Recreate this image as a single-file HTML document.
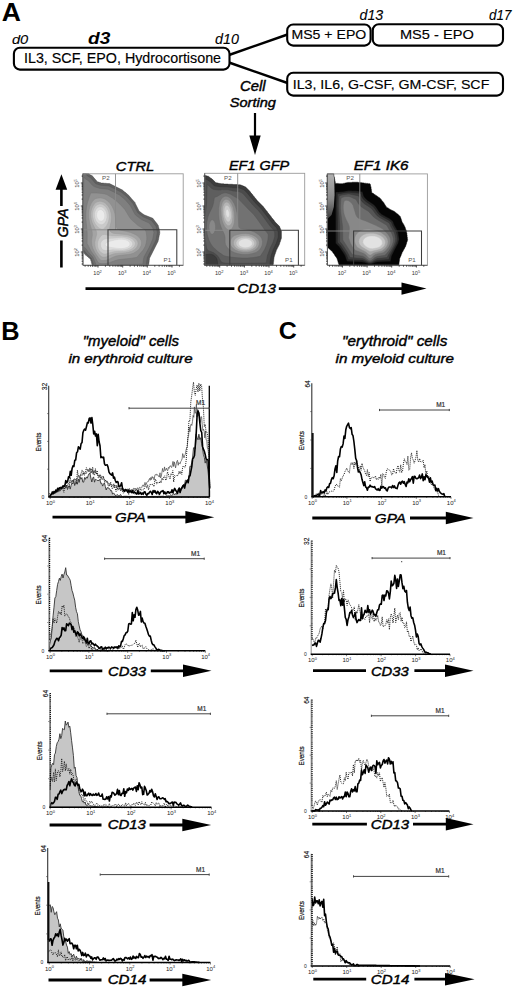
<!DOCTYPE html>
<html><head><meta charset="utf-8"><style>
html,body{margin:0;padding:0;background:#fff;}
svg{display:block;}
text{font-family:"Liberation Sans",sans-serif;}
</style></head><body>
<svg width="520" height="992" viewBox="0 0 520 992">
<rect width="520" height="992" fill="#fff"/>
<text x="1.84" y="20.50" font-size="25.00" font-weight="bold" font-style="normal" textLength="19.19" lengthAdjust="spacingAndGlyphs" fill="#000" >A</text>
<text x="11.90" y="43.60" font-size="13.61" font-weight="normal" font-style="italic" textLength="16.35" lengthAdjust="spacingAndGlyphs" fill="#000" stroke="#000" stroke-width="0.1">d0</text>
<text x="88.08" y="43.80" font-size="17.08" font-weight="bold" font-style="italic" textLength="22.25" lengthAdjust="spacingAndGlyphs" fill="#000" >d3</text>
<text x="215.00" y="44.20" font-size="14.44" font-weight="normal" font-style="italic" textLength="23.89" lengthAdjust="spacingAndGlyphs" fill="#000" stroke="#000" stroke-width="0.1">d10</text>
<text x="359.60" y="20.00" font-size="13.89" font-weight="normal" font-style="italic" textLength="23.66" lengthAdjust="spacingAndGlyphs" fill="#000" stroke="#000" stroke-width="0.1">d13</text>
<text x="489.00" y="20.00" font-size="13.89" font-weight="normal" font-style="italic" textLength="22.48" lengthAdjust="spacingAndGlyphs" fill="#000" stroke="#000" stroke-width="0.1">d17</text>
<path d="M229,55 L287.5,34.5 M229,62.5 L287.5,83" stroke="#000" stroke-width="2.4" fill="none"/>
<rect x="13.9" y="47.7" width="215.6" height="21.9" rx="6" fill="#fff" stroke="#000" stroke-width="2.1"/>
<text x="23.97" y="62.70" font-size="13.89" font-weight="normal" font-style="normal" textLength="197.09" lengthAdjust="spacingAndGlyphs" fill="#000" stroke="#000" stroke-width="0.15">IL3, SCF, EPO, Hydrocortisone</text>
<rect x="287.2" y="24.5" width="83.4" height="21.1" rx="6" fill="#fff" stroke="#000" stroke-width="2.1"/>
<text x="291.46" y="39.30" font-size="13.61" font-weight="normal" font-style="normal" textLength="74.78" lengthAdjust="spacingAndGlyphs" fill="#000" stroke="#000" stroke-width="0.15">MS5 + EPO</text>
<rect x="372.8" y="24.2" width="130.2" height="21.4" rx="6" fill="#fff" stroke="#000" stroke-width="2.1"/>
<text x="399.93" y="39.30" font-size="13.61" font-weight="normal" font-style="normal" textLength="73.86" lengthAdjust="spacingAndGlyphs" fill="#000" stroke="#000" stroke-width="0.15">MS5 - EPO</text>
<rect x="287.2" y="72.8" width="215.8" height="22.8" rx="6" fill="#fff" stroke="#000" stroke-width="2.1"/>
<text x="292.71" y="89.00" font-size="13.61" font-weight="normal" font-style="normal" textLength="196.62" lengthAdjust="spacingAndGlyphs" fill="#000" stroke="#000" stroke-width="0.15">IL3, IL6, G-CSF, GM-CSF, SCF</text>
<text x="240.12" y="91.20" font-size="13.75" font-weight="normal" font-style="italic" textLength="25.54" lengthAdjust="spacingAndGlyphs" fill="#000" stroke="#000" stroke-width="0.42">Cell</text>
<text x="229.73" y="107.30" font-size="13.61" font-weight="normal" font-style="italic" textLength="46.21" lengthAdjust="spacingAndGlyphs" fill="#000" stroke="#000" stroke-width="0.42">Sorting</text>
<path d="M255,113 L255,137" stroke="#000" stroke-width="2.2"/>
<path d="M249.3,135.5 L260.7,135.5 L255,155 Z" fill="#000"/>
<path d="M148.5,265.5 L92.8,265.5 L92.2,265.5 L92,265.3 L92,264.6 L91.8,264.3 L91.8,263.6 L91.5,263.3 L91.5,262.6 L91.3,262.3 L91.3,261.6 L90.8,260.6 L90.5,259.1 L90.2,259 L89,257.8 L88.8,257.8 L87.5,256.5 L87.2,256.5 L86,255.3 L85.8,255.3 L82.8,251.8 L82.8,173.8 L83,173.6 L88.5,173.6 L90.2,174.8 L92.2,175.8 L93.5,177.1 L93.5,177.3 L96.5,180.8 L96.5,181.1 L97.5,181.8 L98.8,182.1 L99,182.3 L99.5,182.3 L99.8,182.6 L100.2,182.6 L101.2,183.1 L103.5,183.1 L103.8,183.3 L106.5,183.3 L106.8,183.6 L109.5,183.6 L122.5,190.1 L123.8,191.3 L124,191.3 L125,192.3 L125.2,192.3 L129.2,195.8 L129.5,196.3 L130.7,197.6 L130.7,197.8 L135.2,202.8 L135.2,203.3 L139.2,211.3 L139.5,211.3 L140.2,212.1 L140.5,212.1 L142.2,213.6 L143.2,214.1 L144,214.8 L152.8,218.3 L153.7,219.3 L153.7,219.6 L157.5,224.3 L157.5,224.6 L158.2,225.3 L158.5,226.8 L158.7,227.1 L158.7,227.8 L159,228.1 L159.2,230.1 L159.5,230.3 L159.5,231.1 L159.7,231.3 L159.7,232.1 L160,232.3 L159.7,232.8 L159.7,233.8 L159.5,234.1 L159.5,235.1 L159.2,235.3 L159.2,236.3 L159,236.6 L159,237.6 L158.7,237.8 L158.7,238.8 L158.5,239.1 L158.5,240.1 L158.2,240.3 L158.2,241.1 L149.5,258.3 L149.5,259.6 L149.2,259.8 L149.2,261.6 L149,261.8 L149,263.6 L148.7,263.8 L148.7,265.3 L148.5,265.5Z" fill="#606060" fill-rule="evenodd" stroke="#444444" stroke-width="0.45"/>
<path d="M146,265.3 L102.5,265.4 L93.8,265.3 L91.3,258.3 L86.5,253.6 L84.2,250.6 L83,250.1 L82.9,217.6 L83,173.7 L86.3,173.8 L86.5,174.8 L87.3,175.8 L91.1,178.1 L94.8,182.7 L95.5,183.4 L96.5,183.9 L101,185.3 L108.8,185.9 L117.2,190 L121.5,192.3 L127.3,197.1 L133,203.6 L137.8,212.8 L143,216.7 L151.5,220.4 L156,226.3 L157.4,232.6 L155.9,240.3 L147.3,257.6 L146.4,263.6 L146.3,265.1 L146.2,265.3 L146,265.3Z" fill="#6f6f6f" fill-rule="evenodd" stroke="#535353" stroke-width="0.45"/>
<path d="M113.2,265.3 L96.3,265.3 L92.8,257.1 L88.2,251.9 L85.8,248.4 L84.5,247.4 L83,246.9 L83,204 L83.6,192.3 L83.8,177.8 L83.8,177.6 L84,177.5 L85.5,178.9 L88.6,180.8 L92.2,185.1 L94.2,186.6 L95.5,187.1 L100,188.4 L108,189.2 L115.2,192.7 L119.5,195 L125,199.5 L130.3,205.6 L134.7,213.8 L135.6,215.1 L141.5,219.6 L149.2,223.1 L152.9,228.1 L153.9,232.6 L152.7,239.3 L149,247.8 L144.2,256.6 L143.5,259.1 L142.8,264.2 L122,264.5 L113.2,265.3Z" fill="#7f7f7f" fill-rule="evenodd" stroke="#636363" stroke-width="0.45"/>
<path d="M105,263.6 L101.5,263.6 L98.7,263.1 L97,260.6 L94.7,256.3 L90.8,250.8 L88.4,245.8 L87.1,243.6 L87.2,232.8 L85.9,219.1 L85.8,215.1 L86,211.3 L86.6,206.6 L87.6,202.1 L89.5,196.3 L90.8,193.1 L91,193 L96.8,193 L101.5,193.4 L104.5,193.9 L106.8,194.5 L112.5,198.1 L115.6,200.3 L120,204.2 L124.8,209.4 L129.5,217.3 L131.5,219.8 L138,225.5 L144.5,229.4 L145.8,231.1 L146.3,232.8 L146.8,237.3 L146.7,239.8 L146.2,243.1 L145.4,245.8 L144.3,248.1 L142.9,250.3 L136.9,257.3 L131.8,258.2 L119,259.6 L116,260.3 L109.2,262.7 L105,263.6Z" fill="#919191" fill-rule="evenodd" stroke="#757575" stroke-width="0.45"/>
<path d="M103.8,260.6 L101,260.4 L99,258.5 L94.8,252.4 L92.8,248.3 L92,245.6 L91.5,241.3 L92.3,235.3 L92.2,232.1 L91.7,229.8 L89.6,222.6 L88.7,217.3 L88.7,213.6 L89.1,209.8 L89.9,206.6 L91.2,203.6 L92.8,201.1 L94.8,199 L96.5,198.4 L98.8,198 L100.8,198 L102.2,198.2 L104,198.7 L105.5,199.4 L107.2,200.7 L109,202.2 L110.5,204.1 L111.9,206.1 L113.7,209.8 L114.9,213.8 L115.6,218.3 L115.9,226.1 L116.3,227.6 L117,228.6 L118,229.3 L119.8,230 L126.8,231.5 L130.8,232.6 L134,233.9 L136.5,235.2 L138.5,236.8 L140,238.6 L141.1,240.6 L141.5,242.6 L141.4,244.1 L141.1,245.6 L139.7,248.3 L138.5,249.7 L137,251 L133.5,253.2 L130.8,254 L127.5,254.6 L118.5,255.6 L116,256 L113.5,256.9 L107.5,259.8 L105.5,260.3 L103.8,260.6Z" fill="#a4a4a4" fill-rule="evenodd" stroke="#888888" stroke-width="0.45"/>
<path d="M104,257.3 L103.2,257.3 L102,256.9 L100.8,256.1 L99.5,254.9 L97,251.6 L95.5,248.3 L94.9,245.3 L94.8,242.6 L95.3,239.6 L96.6,234.8 L96.7,232.6 L96,230.3 L93.4,225.3 L92.2,222.6 L91.3,219.6 L90.9,216.6 L90.8,213.8 L91.1,211.1 L91.9,208.3 L92.9,206.1 L94.2,204.1 L95.8,202.6 L97.1,201.8 L99.2,201.3 L100.8,201.3 L102.5,201.7 L104,202.3 L105.5,203.3 L107,204.7 L108.2,206.2 L109.4,208.1 L110.2,210.1 L111.2,213.6 L111.5,217.3 L111.2,221.6 L109.5,228.8 L109.8,230.5 L110.5,231.7 L112,232.8 L114,233.4 L125.2,234.5 L128.5,235.1 L131.5,236.2 L134.1,237.6 L136.2,239.3 L137.6,241.3 L138.1,243.3 L137.7,245.6 L136.5,247.7 L134.5,249.6 L131.8,251.2 L128.8,252.1 L125.8,252.7 L116.8,253.4 L114,253.8 L111.5,254.6 L106.5,256.8 L104,257.3Z" fill="#b7b7b7" fill-rule="evenodd" stroke="#9b9b9b" stroke-width="0.45"/>
<path d="M102.2,229.3 L101,229.1 L99.2,228.2 L97.5,226.7 L96,225 L94.8,223.1 L93.8,221.1 L93.1,218.8 L92.7,216.6 L92.6,214.3 L92.9,212.1 L93.3,210.1 L94.2,208.1 L95.2,206.5 L96.5,205.2 L98,204.4 L99.5,204 L101,204 L102.8,204.5 L104.2,205.4 L105.8,206.8 L107,208.4 L108,210.3 L108.7,212.6 L109.1,214.8 L109.2,217.3 L108.9,219.6 L108.4,221.8 L107.6,223.8 L106.5,225.8 L105,227.7 L103.5,228.9 L102.2,229.3ZM106,253.9 L104.5,254 L103.2,253.8 L102,253.2 L100.8,252.3 L99.6,251.1 L98.7,249.6 L98,248.1 L97.6,246.3 L97.5,243.1 L97.9,241.3 L98.5,239.6 L99.5,237.8 L100.5,236.5 L101.8,235.3 L102.8,234.7 L103.8,234.5 L104.8,234.5 L109.3,235.6 L112,235.9 L121.8,236 L126.8,236.6 L129.8,237.6 L132.1,238.8 L133.9,240.3 L135,242.1 L135.3,243.1 L135.3,244.3 L134.6,246.3 L132.8,248.3 L130,249.9 L127.2,250.8 L124,251.3 L115.2,251.6 L112.8,251.9 L110.5,252.4 L106,253.9Z" fill="#cacaca" fill-rule="evenodd" stroke="#aeaeae" stroke-width="0.45"/>
<path d="M102.5,224.6 L101.2,224.8 L100,224.5 L98.8,223.9 L97.7,223.1 L96.6,221.8 L95.7,220.3 L95.1,218.6 L94.7,216.8 L94.6,213.3 L95,211.6 L95.6,210.1 L96.4,208.8 L97.3,207.8 L98.5,207.1 L99.8,206.7 L101,206.7 L102,207 L103.2,207.7 L104.3,208.6 L106,211.1 L106.9,214.3 L107,217.6 L106.1,220.8 L105.4,222.1 L104.5,223.3 L103.5,224.1 L102.5,224.6ZM108.2,250.3 L105.5,250.5 L103.5,250 L102.5,249.4 L101.8,248.6 L100.8,246.7 L100.5,244.3 L100.7,243.1 L101.2,241.8 L102.8,240 L104.8,238.9 L106.8,238.6 L118.8,237.7 L121.5,237.6 L124,237.8 L127,238.5 L129.5,239.6 L131.5,241.1 L132.5,242.8 L132.7,243.8 L132.6,244.8 L131.6,246.6 L129.8,248 L127.2,249.1 L125,249.7 L122.2,250 L112.8,249.8 L108.2,250.3Z" fill="#dcdcdc" fill-rule="evenodd" stroke="#c0c0c0" stroke-width="0.45"/>
<path d="M101.2,221.3 L99.8,221 L98.2,219.9 L97.2,218.1 L96.6,215.8 L96.7,213.6 L97.4,211.6 L98.8,210.1 L100.2,209.6 L101.8,209.9 L103.2,211 L104.3,212.8 L104.8,215.1 L104.7,217.3 L104,219.3 L102.8,220.7 L101.2,221.3ZM121.8,248.6 L117.5,248.4 L107.5,246.9 L106.2,246.4 L105.6,245.8 L105.2,245.1 L105.3,244.1 L106.2,242.8 L108.2,241.7 L114.3,240.1 L118.8,239.3 L122,239.2 L125,239.6 L127.5,240.6 L129.2,241.8 L129.8,242.8 L130.1,244.1 L129.7,245.3 L128.9,246.3 L127.5,247.2 L126,247.8 L124,248.3 L121.8,248.6Z" fill="#ebebeb" fill-rule="evenodd" stroke="#cfcfcf" stroke-width="0.45"/>
<rect x="83" y="173.8" width="100.2" height="91.5" fill="none" stroke="#9a9a9a" stroke-width="0.9"/>
<path d="M83,229.8 L108,229.8 M115.5,173.8 L115.5,229.8" stroke="#8a8a8a" stroke-width="0.9" fill="none"/>
<path d="M108,265.3 L108,229.8 L176.8,229.8 L176.8,265.3" stroke="#3c3c3c" stroke-width="1.05" fill="none"/>
<path d="M83,173.8 L83,265.3 L183.2,265.3" stroke="#555" stroke-width="0.9" fill="none"/>
<path d="M85.1,265.3 l0,1.4 M88.2,265.3 l0,1.4 M90.6,265.3 l0,1.4 M92.5,265.3 l0,1.4 M94.2,265.3 l0,1.4 M95.6,265.3 l0,1.4 M96.9,265.3 l0,1.4 M98,265.3 l0,2.2 M105.4,265.3 l0,1.4 M109.8,265.3 l0,1.4 M112.9,265.3 l0,1.4 M115.2,265.3 l0,1.4 M117.2,265.3 l0,1.4 M118.8,265.3 l0,1.4 M120.3,265.3 l0,1.4 M121.5,265.3 l0,1.4 M122.7,265.3 l0,2.2 M130.1,265.3 l0,1.4 M134.4,265.3 l0,1.4 M137.5,265.3 l0,1.4 M139.9,265.3 l0,1.4 M141.9,265.3 l0,1.4 M143.5,265.3 l0,1.4 M144.9,265.3 l0,1.4 M146.2,265.3 l0,1.4 M147.3,265.3 l0,2.2 M154.8,265.3 l0,1.4 M159.1,265.3 l0,1.4 M162.2,265.3 l0,1.4 M164.6,265.3 l0,1.4 M166.5,265.3 l0,1.4 M168.2,265.3 l0,1.4 M169.6,265.3 l0,1.4 M170.9,265.3 l0,1.4 M172,265.3 l0,2.2 M179.4,265.3 l0,1.4 M83,264 l-1.4,0 M83,261.2 l-1.4,0 M83,258.9 l-1.4,0 M83,257.1 l-1.4,0 M83,255.6 l-1.4,0 M83,254.2 l-1.4,0 M83,253.1 l-1.4,0 M83,252 l-2.2,0 M83,245.1 l-1.4,0 M83,241 l-1.4,0 M83,238.2 l-1.4,0 M83,235.9 l-1.4,0 M83,234.1 l-1.4,0 M83,232.6 l-1.4,0 M83,231.2 l-1.4,0 M83,230.1 l-1.4,0 M83,229 l-2.2,0 M83,222.1 l-1.4,0 M83,218 l-1.4,0 M83,215.2 l-1.4,0 M83,212.9 l-1.4,0 M83,211.1 l-1.4,0 M83,209.6 l-1.4,0 M83,208.2 l-1.4,0 M83,207.1 l-1.4,0 M83,206 l-2.2,0 M83,199.1 l-1.4,0 M83,195 l-1.4,0 M83,192.2 l-1.4,0 M83,189.9 l-1.4,0 M83,188.1 l-1.4,0 M83,186.6 l-1.4,0 M83,185.2 l-1.4,0 M83,184.1 l-1.4,0 M83,183 l-2.2,0 M83,176.1 l-1.4,0 " stroke="#222" stroke-width="0.85" fill="none"/>
<text x="97.5" y="274.8" font-size="5.6" fill="#333" text-anchor="middle">10<tspan font-size="4" dy="-2.3">2</tspan></text>
<text x="0" y="0" font-size="5.6" fill="#333" text-anchor="middle" transform="translate(79.4,252.5) rotate(-90)">10<tspan font-size="4" dy="-2.3">2</tspan></text>
<text x="122.2" y="274.8" font-size="5.6" fill="#333" text-anchor="middle">10<tspan font-size="4" dy="-2.3">3</tspan></text>
<text x="0" y="0" font-size="5.6" fill="#333" text-anchor="middle" transform="translate(79.4,229.5) rotate(-90)">10<tspan font-size="4" dy="-2.3">3</tspan></text>
<text x="146.8" y="274.8" font-size="5.6" fill="#333" text-anchor="middle">10<tspan font-size="4" dy="-2.3">4</tspan></text>
<text x="0" y="0" font-size="5.6" fill="#333" text-anchor="middle" transform="translate(79.4,206.5) rotate(-90)">10<tspan font-size="4" dy="-2.3">4</tspan></text>
<text x="171.5" y="274.8" font-size="5.6" fill="#333" text-anchor="middle">10<tspan font-size="4" dy="-2.3">5</tspan></text>
<text x="0" y="0" font-size="5.6" fill="#333" text-anchor="middle" transform="translate(79.4,183.5) rotate(-90)">10<tspan font-size="4" dy="-2.3">5</tspan></text>
<text x="105.8" y="180.1" font-size="6.2" fill="#555" text-anchor="middle">P2</text>
<text x="167.3" y="261.9" font-size="6.2" fill="#555" text-anchor="middle">P1</text>
<path d="M272.9,265.5 L204.7,265.5 L204.5,265.3 L204.5,176.8 L204.5,175.6 L204.7,175.3 L204.9,175.6 L205.7,175.6 L205.9,175.8 L206.7,175.8 L206.9,176.1 L208.4,176.3 L210.9,178.3 L211.9,178.8 L215.9,182.8 L218.2,183.1 L218.4,183.3 L219.4,183.3 L219.7,183.6 L220.7,183.6 L220.9,183.8 L223.7,183.8 L223.9,184.1 L228.2,184.1 L228.4,184.3 L232.7,184.3 L232.9,184.6 L237.9,184.6 L238.2,184.8 L240.4,184.8 L240.7,185.1 L241.2,185.1 L241.9,185.6 L242.4,185.6 L243.2,186.1 L243.7,186.1 L244.4,186.6 L245.4,186.8 L249.9,191.3 L249.9,191.6 L250.7,192.3 L250.7,192.6 L252.7,194.8 L252.7,195.1 L254.7,197.3 L254.7,197.6 L255.9,198.8 L255.9,199.1 L257.2,200.3 L257.2,200.6 L263.7,207.1 L263.7,207.3 L265.4,209.3 L265.4,209.6 L267.4,211.8 L267.4,212.1 L271.2,216.8 L271.2,217.1 L274.2,220.6 L274.2,220.8 L274.9,221.6 L274.9,221.8 L279.4,226.3 L279.9,227.3 L279.9,227.8 L280.4,228.6 L280.4,229.1 L280.9,229.8 L280.9,230.3 L281.4,231.1 L281.4,238.3 L281.2,238.6 L281.2,239.1 L280.9,239.3 L280.9,239.8 L280.7,240.1 L280.7,240.6 L280.4,240.8 L280.4,241.3 L280.2,241.6 L280.2,242.1 L279.9,242.3 L279.4,244.3 L276.2,250.6 L276.2,251.1 L275.7,252.1 L275.7,252.6 L275.4,252.8 L275.4,253.3 L274.9,254.3 L274.9,254.8 L274.7,255.1 L274.7,255.6 L274.4,255.8 L274.4,256.3 L274.2,256.6 L274.2,257.3 L273.9,257.6 L273.9,259.3 L273.7,259.6 L273.7,261.6 L273.4,261.8 L273.4,263.8 L273.2,264.1 L273.2,265.3 L272.9,265.5Z" fill="#3c3c3c" fill-rule="evenodd" stroke="#202020" stroke-width="0.45"/>
<path d="M269.7,265.3 L218.3,265.3 L217.7,264.1 L217.3,260.8 L216.9,259.1 L216.1,257.6 L214.9,256.2 L213.2,255 L211.4,254.4 L209.4,254.2 L205.9,254.6 L204.7,254.2 L204.7,178.9 L206.7,179.4 L207.4,179.8 L210.3,181.8 L213.9,185.3 L214.9,185.9 L220.4,186.7 L227.2,186.8 L228.2,187.1 L231.7,187.3 L232.7,187.6 L239.4,188 L243.9,189.7 L247.1,192.8 L255.1,202.6 L260.9,208.3 L272.7,223.8 L276.6,227.8 L278.3,232.1 L278.3,237.3 L276.3,243.3 L273.4,249.3 L271.2,255.6 L270.5,259.1 L269.9,265.1 L269.7,265.3ZM204.7,265.3 L204.7,265.3Z" fill="#4c4c4c" fill-rule="evenodd" stroke="#303030" stroke-width="0.45"/>
<path d="M248.9,263.3 L227.9,263.3 L224.9,263.1 L222.9,262.7 L221.9,262.3 L220.9,261.3 L218.5,257.1 L216.7,255 L213.4,252.6 L208.4,250.7 L207.7,250.1 L207.1,249.3 L206.6,248.1 L206.2,246.3 L204.8,235.1 L204.7,224.6 L204.7,219.9 L206.1,208.1 L206.6,202.6 L207.2,184.4 L207.9,184.9 L211.5,188.3 L212.7,189 L213.9,189.5 L218.4,190 L220.2,190 L222.2,189.6 L226.7,189.6 L231.2,190.4 L232.9,190.9 L238.9,191.6 L241.9,192.8 L244.3,195.1 L252.6,204.8 L258.4,210.6 L262.2,215.3 L269.9,225.9 L273.7,230.1 L274.7,232.8 L274.7,236.8 L273.1,242.1 L270.2,248.1 L267.7,254.8 L267.2,256.6 L266.2,262.9 L248.9,263.3Z" fill="#5e5e5e" fill-rule="evenodd" stroke="#424242" stroke-width="0.45"/>
<path d="M247.2,258.1 L241.7,258.1 L235.4,257.6 L226.9,256.5 L223.7,255.6 L218.2,251.8 L212.9,246.9 L210.7,243.7 L208.7,239.6 L207.2,234.3 L206.5,228.6 L206.7,222.8 L207.8,217.3 L209.2,213.4 L211.8,208.3 L212.8,205.8 L213.6,202.6 L214.4,197.4 L217.2,196.4 L221.9,193.6 L223.9,193 L225.4,192.8 L226.4,192.9 L228.4,193.4 L230.7,194.3 L234.4,196.6 L238.2,198.6 L247.9,208.8 L253.7,214.4 L257.9,220 L264.9,230.1 L268.1,234.1 L268.2,235.8 L267.9,239.8 L266.6,244.8 L264.6,249.6 L260.3,256.3 L253.7,257.5 L247.2,258.1Z" fill="#727272" fill-rule="evenodd" stroke="#565656" stroke-width="0.45"/>
<path d="M248.7,254.3 L244.9,254.5 L241.2,254.3 L237.7,253.6 L234.2,252.5 L231.2,250.9 L228.7,249.1 L226.9,247.1 L225.6,244.8 L225.1,242.3 L225.1,237.8 L224.9,236.1 L224.1,233.8 L221.3,227.6 L220,223.8 L219.1,219.3 L218.7,214.3 L218.8,208.3 L219.5,203.1 L220.3,200.8 L221.4,198.9 L222.7,197.5 L224.2,196.6 L225.4,196.2 L226.7,196.2 L228.2,196.7 L229.4,197.4 L230.7,198.5 L232,200.1 L234.3,203.8 L235.8,207.8 L237.1,213.1 L238,219.1 L238.5,225.8 L238.9,227.1 L239.3,227.8 L240,228.3 L240.9,228.7 L246.2,229.4 L249.4,230.2 L254.4,232.1 L257.2,233.7 L259.7,235.7 L260.9,237.1 L261.8,238.8 L262.5,241.6 L262.3,244.3 L261.4,247.1 L259.7,249.5 L257.9,251.3 L256.2,252.4 L252.4,253.6 L248.7,254.3ZM212.9,234.1 L212.2,234.2 L211.7,234.2 L210.9,233.7 L210.4,233.1 L209.4,230.8 L209,227.8 L209.1,224.8 L209.8,222.3 L210.9,220.4 L211.4,220 L212.2,219.8 L213.4,220.3 L214.4,221.6 L215.2,223.6 L215.6,226.1 L215.5,228.6 L214.9,231.1 L214,233.1 L212.9,234.1Z" fill="#888888" fill-rule="evenodd" stroke="#6c6c6c" stroke-width="0.45"/>
<path d="M229.7,230.1 L228.4,229.9 L226.9,229.1 L225.7,227.9 L224.4,226.1 L223.3,223.8 L222.3,221.1 L221.6,218.3 L221.2,215.3 L220.9,209.6 L221.1,206.8 L221.6,204.6 L222.4,202.3 L223.4,200.8 L224.7,199.7 L225.9,199.3 L227.2,199.4 L228.7,200.1 L229.9,201.3 L231.2,203.1 L232.2,205.1 L233.2,207.6 L234.4,213.3 L234.6,216.6 L234.6,219.6 L234.3,222.3 L233.8,224.8 L232.9,227 L231.9,228.6 L230.9,229.6 L229.7,230.1ZM247.4,252.3 L243.2,252.3 L238.9,251.5 L235.4,250 L232.7,248 L231.7,246.8 L230.8,245.3 L230.4,244.1 L230.2,242.6 L230.4,241.1 L230.8,239.6 L231.4,238.3 L232.4,237 L234.4,235.6 L237.7,234.5 L241.7,233.7 L245.4,233.5 L248.9,233.9 L251.9,234.7 L254.9,236.2 L257,237.8 L258.7,240.1 L259.3,242.3 L259.1,244.8 L258.1,247.1 L256.4,249.1 L254.2,250.5 L250.9,251.7 L247.4,252.3Z" fill="#9e9e9e" fill-rule="evenodd" stroke="#828282" stroke-width="0.45"/>
<path d="M229.4,225.6 L228.4,225.7 L227.4,225.4 L226.4,224.6 L225.4,223.3 L224.5,221.6 L223.7,219.6 L222.7,215.1 L222.4,210.3 L222.9,206.3 L223.6,204.6 L224.4,203.3 L225.2,202.5 L226.2,202.1 L227.2,202.2 L228.2,202.6 L229.2,203.5 L230.1,204.8 L231.7,208.3 L232.6,212.3 L232.9,216.8 L232.4,221.1 L231.9,222.8 L231.2,224.1 L230.4,225 L229.4,225.6ZM246.4,250.8 L243.2,250.7 L239.9,250 L237.2,248.8 L235,247.1 L233.7,245.1 L233.3,242.8 L233.8,240.8 L235.2,238.8 L237.2,237.4 L239.7,236.3 L242.4,235.7 L245.4,235.5 L248.4,235.8 L251.2,236.6 L253.4,237.7 L255.2,239.2 L256.5,241.1 L256.9,243.1 L256.6,245.1 L255.7,246.8 L254.2,248.3 L252,249.6 L249.4,250.4 L246.4,250.8Z" fill="#b5b5b5" fill-rule="evenodd" stroke="#999999" stroke-width="0.45"/>
<path d="M228.9,221.8 L228.2,221.9 L227.4,221.7 L226.1,220.3 L224.9,217.8 L224.1,214.6 L224,211.3 L224.3,208.3 L225.2,206.3 L225.9,205.5 L226.7,205.3 L227.4,205.4 L228.2,205.8 L229.4,207.3 L230.4,209.7 L231.1,212.6 L231.3,215.8 L231,218.6 L230.2,220.6 L229.7,221.3 L228.9,221.8ZM245.9,249.3 L243.2,249.1 L240.7,248.5 L238.7,247.5 L237,246.1 L236.2,244.6 L236,242.8 L236.6,241.1 L237.9,239.6 L239.4,238.5 L241.4,237.8 L243.7,237.3 L245.9,237.2 L248.2,237.5 L250.2,238.1 L251.9,239.1 L253.4,240.4 L254.3,241.8 L254.6,243.3 L254.3,244.8 L253.5,246.3 L252.2,247.4 L250.4,248.4 L248.2,249 L245.9,249.3Z" fill="#cccccc" fill-rule="evenodd" stroke="#b0b0b0" stroke-width="0.45"/>
<path d="M228.4,217.4 L227.7,217.5 L226.9,216.9 L226.4,215.8 L225.9,214.3 L225.8,212.6 L225.9,210.8 L226.4,209.8 L226.9,209.3 L227.4,209.3 L228.2,209.9 L228.8,211.1 L229.3,212.6 L229.4,214.1 L229.3,215.6 L228.9,216.7 L228.4,217.4ZM245.9,247.8 L243.9,247.7 L242.2,247.3 L240.6,246.6 L239.3,245.6 L238.6,244.3 L238.4,243.1 L238.8,241.8 L239.9,240.6 L241.2,239.7 L242.7,239.2 L244.2,238.9 L245.9,238.8 L247.7,239.1 L249.2,239.6 L250.5,240.3 L251.4,241.2 L252.1,242.3 L252.3,243.3 L252.1,244.6 L251.4,245.5 L250.4,246.4 L249.2,247.1 L247.7,247.6 L245.9,247.8Z" fill="#e2e2e2" fill-rule="evenodd" stroke="#c6c6c6" stroke-width="0.45"/>
<rect x="204.7" y="173.3" width="100" height="92" fill="none" stroke="#9a9a9a" stroke-width="0.9"/>
<path d="M204.7,230.3 L229.8,230.3 M237.7,173.3 L237.7,230.3" stroke="#8a8a8a" stroke-width="0.9" fill="none"/>
<path d="M229.8,265.3 L229.8,230.3 L298.4,230.3 L298.4,265.3" stroke="#3c3c3c" stroke-width="1.05" fill="none"/>
<path d="M204.7,173.3 L204.7,265.3 L304.7,265.3" stroke="#555" stroke-width="0.9" fill="none"/>
<path d="M206.8,265.3 l0,1.4 M209.9,265.3 l0,1.4 M212.3,265.3 l0,1.4 M214.2,265.3 l0,1.4 M215.9,265.3 l0,1.4 M217.3,265.3 l0,1.4 M218.6,265.3 l0,1.4 M219.7,265.3 l0,2.2 M227.1,265.3 l0,1.4 M231.5,265.3 l0,1.4 M234.6,265.3 l0,1.4 M236.9,265.3 l0,1.4 M238.9,265.3 l0,1.4 M240.5,265.3 l0,1.4 M242,265.3 l0,1.4 M243.2,265.3 l0,1.4 M244.4,265.3 l0,2.2 M251.8,265.3 l0,1.4 M256.1,265.3 l0,1.4 M259.2,265.3 l0,1.4 M261.6,265.3 l0,1.4 M263.6,265.3 l0,1.4 M265.2,265.3 l0,1.4 M266.6,265.3 l0,1.4 M267.9,265.3 l0,1.4 M269,265.3 l0,2.2 M276.5,265.3 l0,1.4 M280.8,265.3 l0,1.4 M283.9,265.3 l0,1.4 M286.3,265.3 l0,1.4 M288.2,265.3 l0,1.4 M289.9,265.3 l0,1.4 M291.3,265.3 l0,1.4 M292.6,265.3 l0,1.4 M293.7,265.3 l0,2.2 M301.1,265.3 l0,1.4 M204.7,264 l-1.4,0 M204.7,261.2 l-1.4,0 M204.7,258.9 l-1.4,0 M204.7,257.1 l-1.4,0 M204.7,255.6 l-1.4,0 M204.7,254.2 l-1.4,0 M204.7,253.1 l-1.4,0 M204.7,252 l-2.2,0 M204.7,245.1 l-1.4,0 M204.7,241 l-1.4,0 M204.7,238.2 l-1.4,0 M204.7,235.9 l-1.4,0 M204.7,234.1 l-1.4,0 M204.7,232.6 l-1.4,0 M204.7,231.2 l-1.4,0 M204.7,230.1 l-1.4,0 M204.7,229 l-2.2,0 M204.7,222.1 l-1.4,0 M204.7,218 l-1.4,0 M204.7,215.2 l-1.4,0 M204.7,212.9 l-1.4,0 M204.7,211.1 l-1.4,0 M204.7,209.6 l-1.4,0 M204.7,208.2 l-1.4,0 M204.7,207.1 l-1.4,0 M204.7,206 l-2.2,0 M204.7,199.1 l-1.4,0 M204.7,195 l-1.4,0 M204.7,192.2 l-1.4,0 M204.7,189.9 l-1.4,0 M204.7,188.1 l-1.4,0 M204.7,186.6 l-1.4,0 M204.7,185.2 l-1.4,0 M204.7,184.1 l-1.4,0 M204.7,183 l-2.2,0 M204.7,176.1 l-1.4,0 " stroke="#222" stroke-width="0.85" fill="none"/>
<text x="219.2" y="274.8" font-size="5.6" fill="#333" text-anchor="middle">10<tspan font-size="4" dy="-2.3">2</tspan></text>
<text x="0" y="0" font-size="5.6" fill="#333" text-anchor="middle" transform="translate(201.1,252.5) rotate(-90)">10<tspan font-size="4" dy="-2.3">2</tspan></text>
<text x="243.9" y="274.8" font-size="5.6" fill="#333" text-anchor="middle">10<tspan font-size="4" dy="-2.3">3</tspan></text>
<text x="0" y="0" font-size="5.6" fill="#333" text-anchor="middle" transform="translate(201.1,229.5) rotate(-90)">10<tspan font-size="4" dy="-2.3">3</tspan></text>
<text x="268.5" y="274.8" font-size="5.6" fill="#333" text-anchor="middle">10<tspan font-size="4" dy="-2.3">4</tspan></text>
<text x="0" y="0" font-size="5.6" fill="#333" text-anchor="middle" transform="translate(201.1,206.5) rotate(-90)">10<tspan font-size="4" dy="-2.3">4</tspan></text>
<text x="293.2" y="274.8" font-size="5.6" fill="#333" text-anchor="middle">10<tspan font-size="4" dy="-2.3">5</tspan></text>
<text x="0" y="0" font-size="5.6" fill="#333" text-anchor="middle" transform="translate(201.1,183.5) rotate(-90)">10<tspan font-size="4" dy="-2.3">5</tspan></text>
<text x="227.8" y="179.6" font-size="6.2" fill="#555" text-anchor="middle">P2</text>
<text x="288.9" y="261.9" font-size="6.2" fill="#555" text-anchor="middle">P1</text>
<path d="M398.4,265.6 L340.1,265.6 L339.4,265.6 L339.2,265.4 L338.9,264.4 L338.7,264.1 L338.7,263.6 L338.4,263.4 L338.4,262.9 L338.2,262.6 L338.2,261.9 L337.9,261.6 L337.9,261.1 L337.7,260.9 L337.7,260.4 L337.4,260.1 L337.4,259.6 L337.2,259.4 L337.2,258.9 L336.7,257.9 L334.7,255.2 L334.7,254.9 L332.7,252.2 L332.7,251.9 L327.2,246.9 L327.2,173.9 L327.4,173.7 L333.6,173.7 L333.9,173.9 L333.9,175.7 L334.1,175.9 L334.1,176.9 L334.4,177.2 L334.6,179.4 L334.9,179.7 L334.9,180.9 L335.1,181.2 L335.4,183.4 L338.6,183.4 L338.9,183.7 L342.9,183.7 L343.1,183.4 L344.9,183.2 L345.1,182.9 L346.1,182.9 L346.4,182.7 L347.1,182.7 L347.4,182.4 L351.6,182.4 L351.9,182.2 L358.1,182.2 L358.4,182.4 L360.6,182.4 L360.9,182.7 L362.4,182.7 L362.6,182.9 L364.1,182.9 L364.4,183.2 L365.6,183.2 L365.9,183.4 L368.1,183.4 L368.4,183.7 L369.9,183.7 L370.4,184.4 L370.6,186.2 L370.9,186.4 L370.9,187.2 L371.1,187.4 L371.1,188.9 L371.4,189.2 L371.4,190.4 L371.6,190.7 L371.6,192.2 L372.4,192.9 L372.6,192.9 L373.1,193.4 L374.1,193.9 L374.9,194.7 L375.1,194.7 L375.6,195.2 L377.4,196.2 L378.1,196.9 L378.4,196.9 L379.1,197.7 L379.4,197.7 L380.6,198.7 L380.6,198.9 L381.6,199.9 L381.6,200.2 L383.6,202.4 L384.1,203.4 L384.6,203.9 L384.9,204.7 L385.4,205.2 L385.6,205.9 L386.1,206.4 L386.4,207.2 L388.4,208.2 L390.1,209.4 L394.4,211.4 L397.1,213.7 L397.4,213.7 L400.4,216.7 L400.6,217.7 L400.9,217.9 L400.9,218.4 L401.1,218.7 L401.1,219.2 L401.4,219.4 L401.4,219.9 L401.6,220.2 L401.6,220.7 L401.9,220.9 L401.9,221.4 L402.6,222.9 L403.1,223.4 L403.4,224.2 L403.9,224.7 L404.1,225.4 L404.6,225.9 L404.6,226.4 L405.1,227.2 L405.6,229.2 L406.1,229.9 L406.4,231.2 L406.6,231.4 L406.6,232.7 L406.9,232.9 L406.9,234.7 L407.1,234.9 L407.1,236.9 L407.4,237.2 L407.4,238.9 L407.6,239.2 L407.6,240.2 L407.4,240.4 L407.1,241.7 L406.6,242.7 L406.6,243.4 L406.4,243.7 L406.4,244.2 L406.1,244.4 L405.6,246.4 L404.9,247.4 L404.1,249.2 L403.6,249.7 L402.9,251.4 L402.4,251.9 L401.9,252.9 L401.9,253.4 L401.1,254.9 L401.1,255.4 L400.1,257.4 L400.1,257.9 L399.6,258.6 L399.6,259.6 L399.4,259.9 L399.4,261.4 L399.1,261.6 L399.1,263.4 L398.9,263.6 L398.9,265.1 L398.4,265.6Z" fill="#050505" fill-rule="evenodd" stroke="#000000" stroke-width="0.45"/>
<path d="M371.4,263.9 L369.9,264.1 L368.6,263.9 L364.1,262.4 L361.9,262 L347.1,261.6 L346.9,261.3 L345,255.9 L343.8,253.7 L339.1,246.7 L335.6,243.2 L335.5,203.4 L335.7,192.2 L335.9,192 L338.4,192 L343.4,191.4 L349.1,190.5 L352.1,190.8 L356.1,190.8 L362.6,191.8 L363.4,195.2 L364,196.4 L364.9,197.8 L367.1,199.9 L374.4,205 L376.4,207.4 L379.3,211.9 L380.4,213.1 L381.7,214.2 L385.9,216.6 L389.6,218.6 L392.9,221.2 L394.2,224.7 L397,229.7 L398.3,232.9 L399.2,239.2 L398.2,243.2 L394.8,249.7 L391.7,256.1 L391.1,258.4 L390.6,261.4 L390.4,261.6 L377.6,262 L375.6,262.4 L371.4,263.9Z" fill="#262626" fill-rule="evenodd" stroke="#0a0a0a" stroke-width="0.45"/>
<path d="M371.4,262.9 L369.9,263.1 L368.6,263 L364.1,260.9 L362.1,260.3 L348.4,259.7 L346.6,255.2 L345.2,252.7 L340.5,245.7 L337.4,242.2 L337.5,222.9 L337,205.4 L337.4,193.9 L346.6,192.4 L349.1,192.2 L352.4,192.6 L356.1,192.8 L360.9,193.6 L361.8,196.7 L363.4,199.2 L365.9,201.5 L373,206.4 L374.9,208.7 L377.8,212.9 L379.1,214.4 L381.1,215.9 L388.8,220.2 L391.4,222.2 L392.8,225.7 L395.5,230.4 L396.7,233.7 L397,234.9 L397.6,238.9 L397.2,240.9 L396.1,244.2 L390.1,255.7 L388.9,259.6 L377.4,260.4 L375.6,260.9 L371.4,262.9Z" fill="#3d3d3d" fill-rule="evenodd" stroke="#212121" stroke-width="0.45"/>
<path d="M371.1,261.9 L369.9,262.1 L368.4,261.8 L364.4,259.2 L362.1,258.4 L350.1,257.5 L348.5,254.2 L347.1,251.7 L342.3,244.4 L339.6,241.3 L339.6,224.7 L338.6,206.4 L338.8,200.2 L339.2,195.9 L339.3,195.7 L342.6,194.8 L347.9,194 L349.6,194.1 L358.7,195.9 L360,198.9 L361.9,201.4 L364.3,203.7 L371.1,208.2 L373.1,210.4 L376,214.4 L377.4,215.9 L379.4,217.4 L387.6,222 L389.5,223.4 L390.9,226.7 L393.7,231.4 L394.8,234.2 L395.7,238.7 L395.3,241.7 L393.7,245.9 L390.6,251.4 L388.2,255.2 L387.1,257.5 L377.1,258.6 L375.6,259.2 L372.6,261.2 L371.1,261.9Z" fill="#555555" fill-rule="evenodd" stroke="#393939" stroke-width="0.45"/>
<path d="M370.6,260.7 L369.6,260.8 L368.4,260.3 L364.6,257.2 L362.6,256.2 L352.2,254.4 L342.8,239.9 L342.6,226.4 L340.9,213.7 L340.4,208.2 L340.6,202.2 L341,198.7 L341.4,197.7 L344.9,196.6 L348.1,196.4 L349.9,196.7 L356,199.4 L358.4,203.7 L361.1,206.7 L364.6,209.1 L368.2,211.2 L369.7,212.7 L373.3,216.7 L375.9,218.8 L386.7,225.2 L389.3,229.7 L391.2,232.4 L392.4,234.8 L393.5,238.7 L393.4,240.9 L393.1,242.4 L392.3,244.9 L391,247.4 L389,250.7 L387.2,252.9 L385.1,255.3 L378.4,256.3 L376.6,256.7 L374.9,257.6 L371.9,260.1 L370.6,260.7Z" fill="#6d6d6d" fill-rule="evenodd" stroke="#515151" stroke-width="0.45"/>
<path d="M370.4,258.4 L369.6,258.4 L368.6,258 L365.6,254.7 L363.9,253.5 L355.1,250.2 L352.4,246.7 L350.5,243.4 L348.6,237.7 L349.4,229.7 L349.4,227.7 L349.1,225.9 L348.3,223.7 L346.1,219.4 L344.9,216.5 L344,213.7 L343.5,210.9 L343.2,207.9 L343.3,205.2 L343.8,202.4 L344.4,200.7 L346.1,200.3 L348.1,200.6 L350.1,201.7 L351.6,203.2 L353,205.2 L356,215.2 L356.9,216.7 L358,217.9 L359.4,218.7 L366.9,221.5 L376.1,225.5 L382.4,228.7 L387.9,234.2 L389.1,235.9 L390,237.7 L390.4,238.9 L390.6,240.4 L390.2,243.7 L388.8,246.9 L386.5,249.9 L384.9,251.4 L383.1,252.7 L377.1,254 L375.1,254.7 L373.9,255.6 L371.6,257.8 L370.4,258.4Z" fill="#888888" fill-rule="evenodd" stroke="#6c6c6c" stroke-width="0.45"/>
<path d="M370.9,254.9 L369.9,255.1 L369.1,254.8 L365.4,251.7 L360.4,249.2 L358.1,247.8 L357.1,247 L356.5,246.2 L355.1,243.4 L354.5,241.4 L354.5,239.4 L354.8,237.4 L355.4,235.7 L356.4,234.2 L357.9,232.5 L359.6,231.2 L361.4,230.2 L364.9,229.4 L368.9,229.3 L373.4,229.9 L377.6,231 L380.6,232.3 L384.2,234.7 L386.2,236.7 L387.6,238.9 L388.1,241.7 L387.7,244.2 L386.5,246.7 L384.6,248.9 L381.9,250.9 L374.8,252.7 L373.4,253.3 L370.9,254.9Z" fill="#a5a5a5" fill-rule="evenodd" stroke="#898989" stroke-width="0.45"/>
<path d="M370.9,251.4 L369.9,251.4 L368.9,251 L364.1,248.3 L361.7,246.7 L360,244.9 L359.1,243.2 L358.8,241.2 L359.2,239.2 L360.2,237.4 L361.9,235.7 L363.9,234.5 L366.9,233.6 L370.1,233.2 L373.4,233.3 L376.9,234 L379.9,235.2 L382.4,236.8 L383.4,237.7 L384.3,238.9 L385,240.2 L385.3,241.4 L385.4,242.7 L385.1,243.9 L384.7,245.2 L383.8,246.4 L382.4,247.9 L380.6,249 L378.1,249.8 L370.9,251.4Z" fill="#c4c4c4" fill-rule="evenodd" stroke="#a8a8a8" stroke-width="0.45"/>
<path d="M372.4,248.7 L370.1,248.5 L367.9,247.7 L365.2,245.9 L363.5,243.9 L362.9,242.2 L363.1,240.4 L364.1,238.7 L365.8,237.4 L367.6,236.6 L369.6,236.1 L372.1,235.9 L374.6,236.1 L376.9,236.7 L378.9,237.6 L380.4,238.7 L381.6,240.2 L382.2,241.7 L382.3,243.2 L381.8,244.7 L380.5,246.2 L379.4,247 L377.6,247.7 L375.1,248.3 L372.4,248.7Z" fill="#e2e2e2" fill-rule="evenodd" stroke="#c6c6c6" stroke-width="0.45"/>
<defs><linearGradient id="ikg" x1="0" y1="0" x2="0" y2="1"><stop offset="0" stop-color="#b0b0b0"/><stop offset="0.55" stop-color="#8a8a8a"/><stop offset="1" stop-color="#3a3a3a"/></linearGradient></defs>
<path d="M327.4,174.3 L333.6,174.3 L334.3,181 L334.6,195 L333.8,207 L331.5,215 L327.4,219 Z" fill="url(#ikg)"/>
<rect x="327.4" y="173.9" width="100" height="91.4" fill="none" stroke="#9a9a9a" stroke-width="0.9"/>
<path d="M327.4,231 L353.6,231 M359.8,173.9 L359.8,231" stroke="#8a8a8a" stroke-width="0.9" fill="none"/>
<path d="M353.6,265.3 L353.6,231 L421.5,231 L421.5,265.3" stroke="#3c3c3c" stroke-width="1.05" fill="none"/>
<path d="M327.4,173.9 L327.4,265.3 L427.4,265.3" stroke="#555" stroke-width="0.9" fill="none"/>
<path d="M329.5,265.3 l0,1.4 M332.6,265.3 l0,1.4 M335,265.3 l0,1.4 M336.9,265.3 l0,1.4 M338.6,265.3 l0,1.4 M340,265.3 l0,1.4 M341.3,265.3 l0,1.4 M342.4,265.3 l0,2.2 M349.8,265.3 l0,1.4 M354.2,265.3 l0,1.4 M357.3,265.3 l0,1.4 M359.6,265.3 l0,1.4 M361.6,265.3 l0,1.4 M363.2,265.3 l0,1.4 M364.7,265.3 l0,1.4 M365.9,265.3 l0,1.4 M367.1,265.3 l0,2.2 M374.5,265.3 l0,1.4 M378.8,265.3 l0,1.4 M381.9,265.3 l0,1.4 M384.3,265.3 l0,1.4 M386.3,265.3 l0,1.4 M387.9,265.3 l0,1.4 M389.3,265.3 l0,1.4 M390.6,265.3 l0,1.4 M391.7,265.3 l0,2.2 M399.2,265.3 l0,1.4 M403.5,265.3 l0,1.4 M406.6,265.3 l0,1.4 M409,265.3 l0,1.4 M410.9,265.3 l0,1.4 M412.6,265.3 l0,1.4 M414,265.3 l0,1.4 M415.3,265.3 l0,1.4 M416.4,265.3 l0,2.2 M423.8,265.3 l0,1.4 M327.4,264 l-1.4,0 M327.4,261.2 l-1.4,0 M327.4,258.9 l-1.4,0 M327.4,257.1 l-1.4,0 M327.4,255.6 l-1.4,0 M327.4,254.2 l-1.4,0 M327.4,253.1 l-1.4,0 M327.4,252 l-2.2,0 M327.4,245.1 l-1.4,0 M327.4,241 l-1.4,0 M327.4,238.2 l-1.4,0 M327.4,235.9 l-1.4,0 M327.4,234.1 l-1.4,0 M327.4,232.6 l-1.4,0 M327.4,231.2 l-1.4,0 M327.4,230.1 l-1.4,0 M327.4,229 l-2.2,0 M327.4,222.1 l-1.4,0 M327.4,218 l-1.4,0 M327.4,215.2 l-1.4,0 M327.4,212.9 l-1.4,0 M327.4,211.1 l-1.4,0 M327.4,209.6 l-1.4,0 M327.4,208.2 l-1.4,0 M327.4,207.1 l-1.4,0 M327.4,206 l-2.2,0 M327.4,199.1 l-1.4,0 M327.4,195 l-1.4,0 M327.4,192.2 l-1.4,0 M327.4,189.9 l-1.4,0 M327.4,188.1 l-1.4,0 M327.4,186.6 l-1.4,0 M327.4,185.2 l-1.4,0 M327.4,184.1 l-1.4,0 M327.4,183 l-2.2,0 M327.4,176.1 l-1.4,0 " stroke="#222" stroke-width="0.85" fill="none"/>
<text x="341.9" y="274.8" font-size="5.6" fill="#333" text-anchor="middle">10<tspan font-size="4" dy="-2.3">2</tspan></text>
<text x="0" y="0" font-size="5.6" fill="#333" text-anchor="middle" transform="translate(323.8,252.5) rotate(-90)">10<tspan font-size="4" dy="-2.3">2</tspan></text>
<text x="366.6" y="274.8" font-size="5.6" fill="#333" text-anchor="middle">10<tspan font-size="4" dy="-2.3">3</tspan></text>
<text x="0" y="0" font-size="5.6" fill="#333" text-anchor="middle" transform="translate(323.8,229.5) rotate(-90)">10<tspan font-size="4" dy="-2.3">3</tspan></text>
<text x="391.2" y="274.8" font-size="5.6" fill="#333" text-anchor="middle">10<tspan font-size="4" dy="-2.3">4</tspan></text>
<text x="0" y="0" font-size="5.6" fill="#333" text-anchor="middle" transform="translate(323.8,206.5) rotate(-90)">10<tspan font-size="4" dy="-2.3">4</tspan></text>
<text x="415.9" y="274.8" font-size="5.6" fill="#333" text-anchor="middle">10<tspan font-size="4" dy="-2.3">5</tspan></text>
<text x="0" y="0" font-size="5.6" fill="#333" text-anchor="middle" transform="translate(323.8,183.5) rotate(-90)">10<tspan font-size="4" dy="-2.3">5</tspan></text>
<text x="350.1" y="180.2" font-size="6.2" fill="#555" text-anchor="middle">P2</text>
<text x="412" y="261.9" font-size="6.2" fill="#555" text-anchor="middle">P1</text>
<text x="115.80" y="170.60" font-size="13.33" font-weight="normal" font-style="italic" textLength="38.40" lengthAdjust="spacingAndGlyphs" fill="#000" stroke="#000" stroke-width="0.42">CTRL</text>
<text x="229.00" y="170.20" font-size="13.33" font-weight="normal" font-style="italic" textLength="60.11" lengthAdjust="spacingAndGlyphs" fill="#000" stroke="#000" stroke-width="0.42">EF1 GFP</text>
<text x="353.70" y="170.20" font-size="13.33" font-weight="normal" font-style="italic" textLength="54.78" lengthAdjust="spacingAndGlyphs" fill="#000" stroke="#000" stroke-width="0.42">EF1 IK6</text>
<path d="M61.4,189 L61.4,206 M61.4,240.4 L61.4,267.4" stroke="#000" stroke-width="2.6"/>
<path d="M55.6,189.8 L67.2,189.8 L61.4,174.2 Z" fill="#000"/>
<text x="0" y="0" font-size="14.4" font-style="italic" stroke="#000" stroke-width="0.45" text-anchor="middle" textLength="29.2" lengthAdjust="spacingAndGlyphs" transform="translate(67.6,223.0) rotate(-90)">GPA</text>
<path d="M85.5,288.6 L234.4,288.6 M278.8,288.6 L402,288.6" stroke="#000" stroke-width="2.6"/>
<path d="M401.5,282.6 L401.5,294.8 L426.5,288.6 Z" fill="#000"/>
<text x="237.39" y="293.20" font-size="13.61" font-weight="normal" font-style="italic" textLength="38.48" lengthAdjust="spacingAndGlyphs" fill="#000" stroke="#000" stroke-width="0.42">CD13</text>
<text x="1.16" y="340.20" font-size="24.86" font-weight="bold" font-style="normal" textLength="18.31" lengthAdjust="spacingAndGlyphs" fill="#000" >B</text>
<text x="278.74" y="339.20" font-size="23.60" font-weight="bold" font-style="normal" textLength="18.07" lengthAdjust="spacingAndGlyphs" fill="#000" >C</text>
<text x="82.76" y="346.40" font-size="14.44" font-weight="normal" font-style="italic" textLength="96.24" lengthAdjust="spacingAndGlyphs" fill="#000" stroke="#000" stroke-width="0.42">"myeloid" cells</text>
<text x="68.40" y="363.00" font-size="13.61" font-weight="normal" font-style="italic" textLength="124.15" lengthAdjust="spacingAndGlyphs" fill="#000" stroke="#000" stroke-width="0.42">in erythroid culture</text>
<text x="341.94" y="346.40" font-size="14.44" font-weight="normal" font-style="italic" textLength="105.41" lengthAdjust="spacingAndGlyphs" fill="#000" stroke="#000" stroke-width="0.42">"erythroid" cells</text>
<text x="335.50" y="363.00" font-size="13.61" font-weight="normal" font-style="italic" textLength="118.51" lengthAdjust="spacingAndGlyphs" fill="#000" stroke="#000" stroke-width="0.42">in myeloid culture</text>
<polygon points="49.5,497 49.5,497 50.4,494.9 51.3,494.5 52.2,494.2 53.1,492.4 54,492.6 54.9,492.1 55.8,489.5 56.7,492.4 57.6,491.5 58.5,489.6 59.4,489.8 60.3,490.3 61.2,489 62.1,488.6 63,486.6 63.9,489.1 64.8,488.1 65.7,488 66.6,485 67.5,489.5 68.4,486.9 69.3,485.7 70.2,489.1 71.1,485.4 72,482.7 72.9,484 73.8,480.4 74.7,485.5 75.6,482.6 76.5,481.5 77.4,484.2 78.3,478.9 79.2,482.4 80.1,477.1 81,479.2 81.9,477.6 82.8,482.1 83.7,482.2 84.6,477.5 85.5,479.3 86.4,476.9 87.3,478.2 88.2,475.5 89.1,473.6 90,473.5 90.9,478.1 91.8,482 92.7,478.2 93.6,476.9 94.5,482.2 95.4,479.4 96.3,479.6 97.2,480.5 98.1,480.4 99,480.7 99.9,479.3 100.8,483.5 101.7,483.1 102.6,486.1 103.5,484.3 104.4,482.7 105.3,486.5 106.2,490 107.1,487.7 108,487.8 108.9,488.1 109.8,489.1 110.7,490.9 111.6,490.6 112.5,494.2 113.4,492.9 114.3,493.8 115.2,495.4 116.1,495.7 117,494.5 117.9,495.2 118.8,495.8 119.7,495.3 120.6,494.5 121.5,496.3 122.4,496.6 123.3,496.4 124.2,496.3 125.1,496.3 126,496.3 126.9,496.3 127.8,496.4 128.7,496.4 129.6,496.4 130.5,496.4 131.4,496.4 132.3,496.4 133.2,496.5 134.1,496.5 135,496.5 135.9,496.5 136.8,496.5 137.7,496.5 138.6,496.5 139.5,496.5 140.4,496.5 141.3,496.5 142.2,496.5 143.1,496.5 144,496.5 144.9,496.5 145.8,496.5 146.7,496.5 147.6,496.5 148.5,496.5 149.4,496.5 150.3,496.5 151.2,496.4 152.1,496.4 153,496.4 153.9,496.4 154.8,496.4 155.7,496.4 156.6,496.4 157.5,496.4 158.4,496.3 159.3,496.3 160.2,496.3 161.1,496.3 162,496.3 162.9,496.2 163.8,496.2 164.7,496.8 165.6,496.3 166.5,495.7 167.4,495.9 168.3,495.7 169.2,496.2 170.1,495.3 171,494.7 171.9,495.7 172.8,494.4 173.7,493.4 174.6,494.9 175.5,493.6 176.4,494.3 177.3,492.9 178.2,491.8 179.1,491.1 180,491.2 180.9,490.8 181.8,489 182.7,488.2 183.6,484.6 184.5,485.1 185.4,480.1 186.3,480.9 187.2,480.6 188.1,479.1 189,477.7 189.9,466.3 190.8,466.7 191.7,462.8 192.6,457.8 193.5,447.8 194.4,447.7 195.3,448.7 196.2,434.1 197.1,437.9 198,439.8 198.9,434.2 199.8,439.5 200.7,437.7 201.6,443.6 202.5,447.7 203.4,454.5 204.3,457.3 205.2,463.1 206.1,460.2 207,464.1 207.9,469.9 208.8,479.3 209.7,491.2 209.7,497" fill="#c6c6c6" stroke="#333" stroke-width="0.9" stroke-linejoin="round"/>
<polyline points="49.5,495.5 50.1,494.3 50.8,494.6 51.4,494.2 52.1,494.6 52.7,493.3 53.4,491.2 54,491.2 54.7,492.7 55.3,491.5 56,492.4 56.6,491.2 57.3,489.9 57.9,491.2 58.6,489 59.2,487.4 59.9,491.2 60.5,486.7 61.2,489 61.8,488.9 62.5,487.7 63.1,485.3 63.8,487.9 64.4,484.8 65.1,484.5 65.7,485.2 66.4,486.2 67,485.2 67.7,485.4 68.3,483.5 69,483.4 69.6,481.8 70.3,482.4 70.9,483.1 71.6,481.5 72.2,482.1 72.9,480.3 73.5,479.8 74.2,480.1 74.8,479.4 75.5,480 76.1,478.9 76.8,480.7 77.4,477.4 78.1,477 78.7,475.3 79.4,476.4 80,477 80.7,474.4 81.3,474.9 82,475.6 82.6,473.7 83.3,472.5 83.9,474.5 84.6,472.6 85.2,472.6 85.9,473.6 86.5,473.3 87.2,470.5 87.8,470.1 88.5,471.5 89.1,470.8 89.8,467.9 90.4,473.5 91.1,471.5 91.7,472.9 92.4,469.8 93,474.2 93.7,471.2 94.3,472.3 95,470.5 95.6,472.9 96.3,473.2 96.9,473.7 97.6,475.1 98.2,474.9 98.9,476.8 99.5,475 100.2,474.6 100.8,476.6 101.5,478 102.1,479.4 102.8,479.3 103.4,476.2 104.1,479.8 104.7,481.9 105.4,480.5 106,480.3 106.7,481.9 107.3,481.4 108,483.4 108.6,483.1 109.3,485.3 109.9,484.6 110.6,483.5 111.2,485.5 111.9,486.3 112.5,484.9 113.2,485.5 113.8,483.8 114.5,487.8 115.1,486.5 115.8,485.2 116.4,485.9 117.1,487.9 117.7,489.2 118.4,488.5 119,489.3 119.7,487.8 120.3,487.7 121,490.1 121.6,489.8 122.3,489.3 122.9,490.7 123.6,488.6 124.2,489.2 124.9,490.7 125.5,491.6 126.2,489.8 126.8,491.5 127.5,489.3 128.1,490.3 128.8,489.8 129.4,488.4 130.1,490.3 130.7,490.9 131.4,489.8 132,489.8 132.7,491.2 133.3,488.5 134,488.1 134.6,488.8 135.3,488.1 135.9,490.5 136.6,489.3 137.2,487.9 137.9,488 138.5,491.4 139.2,487.6 139.8,487.2 140.5,488.1 141.1,488.2 141.8,487.4 142.4,485.6 143.1,484.8 143.7,486.3 144.4,485 145,482.4 145.7,485.2 146.3,484.1 147,482.2 147.6,481.6 148.3,481.6 148.9,479.9 149.6,478.4 150.2,480.3 150.9,477.4 151.5,479.5 152.2,476.5 152.8,478 153.5,477.6 154.1,480.1 154.8,475.5 155.4,474.5 156.1,475.3 156.7,474.2 157.4,474.6 158,475.8 158.7,476 159.3,477.1 160,472.8 160.6,477.9 161.3,476.4 161.9,472.4 162.6,468.4 163.2,471.7 163.9,471.5 164.5,466.9 165.2,470.6 165.8,469.7 166.5,468.2 167.1,470.3 167.8,470.6 168.4,467.4 169.1,468.4 169.7,466.3 170.4,465.7 171,467 171.7,467.5 172.3,465 173,461.4 173.6,466.5 174.3,461.9 174.9,464.9 175.6,467.9 176.2,464 176.9,461.2 177.5,460.3 178.2,465.3 178.8,462.5 179.5,463.4 180.1,463.9 180.8,461.5 181.4,460.6 182.1,458.8 182.7,453.6 183.4,456.1 184,457.8 184.7,455.4 185.3,454.3 186,450.2 186.6,448 187.3,446.7 187.9,438.1 188.6,435.6 189.2,426.9 189.9,431.8 190.5,425.5 191.2,424.2 191.8,425.5 192.5,421.6 193.1,415.4 193.8,417.3 194.4,406.9 195.1,413.4 195.7,411.6 196.4,404.4 197,417 197.7,409.3 198.3,415.8 199,412.3 199.6,419.3 200.3,422.5 200.9,416.7 201.6,416.8 202.2,424.5 202.9,430.5 203.5,429.1 204.2,431.3 204.8,437.9 205.5,431 206.1,439.9 206.8,440.4 207.4,448.2 208.1,449.7 208.7,456 209.4,475.5" fill="none" stroke="#444" stroke-width="0.7" stroke-linejoin="round"/>
<polyline points="49.5,493.3 50.4,494.6 51.3,493.3 52.2,493.3 53.1,492.4 54,494.4 54.9,492.4 55.8,493 56.7,492.5 57.6,489.9 58.5,491.8 59.4,491 60.3,490.4 61.2,488.6 62.1,488 63,489.9 63.9,492.3 64.8,485.6 65.7,487.9 66.6,485.4 67.5,487.4 68.4,486.1 69.3,487 70.2,477.2 71.1,481.7 72,480.1 72.9,481.6 73.8,479.2 74.7,478.7 75.6,481.4 76.5,484.1 77.4,470.2 78.3,476.5 79.2,477.5 80.1,475.9 81,474.1 81.9,470.2 82.8,470.5 83.7,474.8 84.6,475.1 85.5,471.3 86.4,467.7 87.3,470.4 88.2,469.2 89.1,471.8 90,470.6 90.9,468.4 91.8,471.3 92.7,467.1 93.6,473.8 94.5,475.4 95.4,468.6 96.3,474.2 97.2,470.6 98.1,477.6 99,477.9 99.9,475.2 100.8,479.5 101.7,476.2 102.6,476.5 103.5,477.6 104.4,479.7 105.3,480.1 106.2,482.3 107.1,481.2 108,485.3 108.9,486.6 109.8,483.7 110.7,482.2 111.6,487.6 112.5,489 113.4,486.7 114.3,484.9 115.2,488.6 116.1,491.5 117,485.2 117.9,490.2 118.8,489 119.7,488.3 120.6,491.1 121.5,488.1 122.4,491.2 123.3,493.2 124.2,491.5 125.1,489.9 126,488.6 126.9,489.6 127.8,488.8 128.7,494.6 129.6,491.6 130.5,490.3 131.4,489.8 132.3,490.1 133.2,491.1 134.1,489.4 135,494.2 135.9,489.8 136.8,489.5 137.7,491.2 138.6,493 139.5,492.6 140.4,489 141.3,490.1 142.2,489.6 143.1,490.1 144,489.3 144.9,486.5 145.8,485.5 146.7,488.1 147.6,484.8 148.5,489.9 149.4,486.6 150.3,483.9 151.2,485 152.1,484.2 153,484.6 153.9,486.7 154.8,480.7 155.7,479.2 156.6,484.1 157.5,482.4 158.4,482.7 159.3,483 160.2,480.9 161.1,483 162,478 162.9,480.1 163.8,477.1 164.7,475.8 165.6,480.1 166.5,479.5 167.4,471.9 168.3,473.7 169.2,477.3 170.1,479.1 171,473.6 171.9,474.6 172.8,470.6 173.7,482 174.6,475.6 175.5,476.5 176.4,475.5 177.3,476 178.2,474.6 179.1,471.1 180,474 180.9,471.2 181.8,474.4 182.7,466.7 183.6,465.8 184.5,467.7 185.4,467 186.3,458.8 187.2,445.6 188.1,435 189,420.4 189.9,420.6 190.8,402 191.7,395.8 192.6,388.2 193.5,382.1 194.4,392.4 195.3,395.3 196.2,388.7 197.1,385 198,392 198.9,383.2 199.8,391 200.7,384 201.6,385.6 202.5,399.4 203.4,407.3 204.3,426.7 205.2,424.3 206.1,432.1 207,432.3 207.9,436.8 208.8,450.7 209.7,487" fill="none" stroke="#222" stroke-width="1.0" stroke-linejoin="round" stroke-dasharray="1 1"/>
<polyline points="49.6,497 50.5,495.2 51.4,494.6 52.3,491.9 53.2,493.8 54.1,491.6 55,492.4 55.9,490.3 56.8,491.5 57.7,488.3 58.6,490 59.5,487.8 60.4,487.8 61.3,488.4 62.2,487 63.1,485.9 64,486.5 64.9,485.7 65.8,480.5 66.7,482.8 67.6,481.6 68.5,476.9 69.4,477.5 70.3,471.4 71.2,475.3 72.1,468.4 73,465.8 73.9,466.5 74.8,460.2 75.7,459.9 76.6,452.7 77.5,451.8 78.4,446.8 79.3,447.9 80.2,449.2 81.1,443.5 82,442.7 82.9,432.8 83.8,430.3 84.7,429.1 85.6,430.1 86.5,426.5 87.4,422.6 88.3,423 89.2,418.5 90.1,417.9 91,423 91.9,417.6 92.8,424.6 93.7,434 94.6,431.2 95.5,436 96.4,433.9 97.3,445.7 98.2,434.3 99.1,441.8 100,445.8 100.9,457.7 101.8,456.9 102.7,457.6 103.6,457.1 104.5,463.9 105.4,465.2 106.3,465 107.2,464.7 108.1,467.3 109,472.1 109.9,473.7 110.8,474.4 111.7,475.2 112.6,472.9 113.5,478.1 114.4,477 115.3,480.5 116.2,482.5 117.1,481.5 118,482 118.9,486.6 119.8,486.4 120.7,485.6 121.6,482.7 122.5,488.3 123.4,490.1 124.3,491.4 125.2,489.5 126.1,490 127,490.6 127.9,492.5 128.8,490.2 129.7,491.8 130.6,491 131.5,492.6 132.4,490.6 133.3,493 134.2,492.1 135.1,492.5 136,493.4 136.9,494.1 137.8,490.8 138.7,494 139.6,493.4 140.5,492.5 141.4,494.4 142.3,493 143.2,494.3 144.1,492.1 145,491.8 145.9,494.2 146.8,495.3 147.7,493.5 148.6,493.8 149.5,492.2 150.4,491.3 151.3,492.5 152.2,494.5 153.1,490.6 154,492.2 154.9,490.6 155.8,492.9 156.7,493.8 157.6,491.4 158.5,492.3 159.4,494.3 160.3,492.7 161.2,491.4 162.1,491.3 163,490.5 163.9,493.7 164.8,491.9 165.7,493.9 166.6,493.6 167.5,491.7 168.4,491.8 169.3,493.2 170.2,492.4 171.1,492.4 172,489.8 172.9,492.8 173.8,490.4 174.7,488.4 175.6,490.3 176.5,491.5 177.4,493.5 178.3,489.8 179.2,488 180.1,492.5 181,489 181.9,487.8 182.8,485.8 183.7,485 184.6,488.1 185.5,483.9 186.4,481.9 187.3,480.3 188.2,482.7 189.1,476.1 190,475.8 190.9,471.1 191.8,466.6 192.7,458.5 193.6,457.8 194.5,455.5 195.4,443.9 196.3,431.6 197.2,413.1 198.1,410.9 199,414 199.9,423.3 200.8,430.7 201.7,432.3 202.6,446.4 203.5,449.4 204.4,451.5 205.3,455 206.2,459.4 207.1,459.6 208,460 208.9,472.1 209.8,488.5" fill="none" stroke="#000" stroke-width="1.6" stroke-linejoin="round"/>
<path d="M209.3,385.8 L209.3,497" stroke="#000" stroke-width="1.3"/>
<text x="50.5" y="505" font-size="6" fill="#222" text-anchor="middle">10<tspan font-size="4" dy="-2.4">0</tspan></text>
<text x="90.2" y="505" font-size="6" fill="#222" text-anchor="middle">10<tspan font-size="4" dy="-2.4">1</tspan></text>
<text x="130" y="505" font-size="6" fill="#222" text-anchor="middle">10<tspan font-size="4" dy="-2.4">2</tspan></text>
<text x="169.8" y="505" font-size="6" fill="#222" text-anchor="middle">10<tspan font-size="4" dy="-2.4">3</tspan></text>
<text x="209.5" y="505" font-size="6" fill="#222" text-anchor="middle">10<tspan font-size="4" dy="-2.4">4</tspan></text>
<path d="M50.2,497 l0,2 M62.2,497 l0,1 M69.2,497 l0,1 M74.1,497 l0,1 M78,497 l0,1 M81.1,497 l0,1 M83.8,497 l0,1 M86.1,497 l0,1 M88.1,497 l0,1 M90,497 l0,2 M101.9,497 l0,1 M108.9,497 l0,1 M113.9,497 l0,1 M117.7,497 l0,1 M120.9,497 l0,1 M123.5,497 l0,1 M125.8,497 l0,1 M127.9,497 l0,1 M129.7,497 l0,2 M141.7,497 l0,1 M148.7,497 l0,1 M153.6,497 l0,1 M157.5,497 l0,1 M160.6,497 l0,1 M163.3,497 l0,1 M165.6,497 l0,1 M167.6,497 l0,1 M169.4,497 l0,2 M181.4,497 l0,1 M188.4,497 l0,1 M193.4,497 l0,1 M197.2,497 l0,1 M200.4,497 l0,1 M203,497 l0,1 M205.3,497 l0,1 M207.4,497 l0,1 M209.2,497 l0,2 M48.7,469.2 l-1.5,0 M48.7,441.4 l-1.5,0 M48.7,413.6 l-1.5,0 " stroke="#222" stroke-width="0.6" fill="none"/>
<path d="M48.7,385.8 L48.7,497" stroke="#333" stroke-width="1.1" fill="none"/>
<path d="M48.2,497 L209.2,497" stroke="#000" stroke-width="1.4" fill="none"/>
<text x="0" y="0" font-size="6.6" fill="#111" stroke="#111" stroke-width="0.15" text-anchor="end" transform="translate(46.7,382.8) rotate(-90)">32</text>
<text x="0" y="0" font-size="6.6" fill="#111" stroke="#111" stroke-width="0.2" text-anchor="middle" textLength="19" lengthAdjust="spacingAndGlyphs" transform="translate(41.3,442.1) rotate(-90)">Events</text>
<text x="44.2" y="498.8" font-size="5" fill="#222" text-anchor="end">0</text>
<path d="M129,408.2 L209.2,408.2 M129,407.1 l0,2.2 M209.2,407.1 l0,2.2" stroke="#444" stroke-width="1" fill="none"/>
<text x="200.6" y="405.2" font-size="6.5" fill="#333" stroke="#333" stroke-width="0.2" text-anchor="middle">M1</text>
<path d="M52.5,517.2 L111.5,517.2 M147.5,517.2 L186.4,517.2" stroke="#000" stroke-width="2.8"/>
<path d="M185.4,510.9 L214.3,517.2 L185.4,523.5 Z" fill="#000"/>
<text x="115.07" y="522.10" font-size="13.33" font-weight="normal" font-style="italic" textLength="30.65" lengthAdjust="spacingAndGlyphs" fill="#000" stroke="#000" stroke-width="0.42">GPA</text>
<polygon points="49.5,650.8 49.5,645.2 50.4,640.8 51.3,638 52.2,626.6 53.1,615.8 54,607.2 54.9,598 55.8,596.7 56.7,590.4 57.6,584.3 58.5,581.5 59.4,578.2 60.3,580.4 61.2,576.6 62.1,574.1 63,578 63.9,574.6 64.8,572 65.7,567.7 66.6,575 67.5,575.3 68.4,577 69.3,578.4 70.2,580.2 71.1,585.4 72,590.5 72.9,593 73.8,596.9 74.7,600.1 75.6,607.2 76.5,611.7 77.4,613.7 78.3,621.7 79.2,625.9 80.1,629.9 81,631.7 81.9,634.8 82.8,635.5 83.7,640.3 84.6,637.1 85.5,641 86.4,642.2 87.3,644.7 88.2,644.3 89.1,643.9 90,644 90.9,645.5 91.8,647.1 92.7,647.6 93.6,648 94.5,648.1 95.4,649 96.3,650.2 97.2,649.2 98.1,650.1 99,650.3 99.9,650.4 100.8,650.4 101.7,650.5 102.6,650.6 103.5,650.6 104.4,650.7 105.3,650.7 106.2,650.7 107.1,650.8 108,650.8 108.9,650.8 109.8,650.8 109.8,650.8" fill="#c6c6c6" stroke="#333" stroke-width="0.9" stroke-linejoin="round"/>
<polyline points="49.5,643.3 50.4,634.3 51.3,632.7 52.2,627.6 53.1,618.5 54,623.1 54.9,618.7 55.8,620.5 56.7,623.1 57.6,616.7 58.5,611.5 59.4,613.6 60.3,612 61.2,615 62.1,605.8 63,607.5 63.9,605.1 64.8,616.1 65.7,614.7 66.6,613.7 67.5,614.9 68.4,617.1 69.3,617.6 70.2,621.3 71.1,622.5 72,630.4 72.9,628.9 73.8,627.4 74.7,629.8 75.6,636.3 76.5,635.7 77.4,636.7 78.3,639.1 79.2,642.4 80.1,637.2 81,639.4 81.9,638.4 82.8,643.7 83.7,642.7 84.6,642.9 85.5,643.4 86.4,646.5 87.3,645.6 88.2,645.5 89.1,648.6 90,645.5 90.9,645.5 91.8,650.8 92.7,647.3 93.6,647.3 94.5,647.3 95.4,648.3 96.3,649.6 97.2,649.7 98.1,649.5 99,648.7 99.9,647.3 100.8,649.3 101.7,650.7 102.6,650.2 103.5,648.8 104.4,649.9 105.3,648.6 106.2,648.9 107.1,647.6 108,648.6 108.9,649.2 109.8,648.8 110.7,649.9 111.6,650.8 112.5,650.5 113.4,648.7 114.3,648.2 115.2,648.3 116.1,647.8 117,648.8 117.9,649.1 118.8,648.6 119.7,648.3 120.6,647.9 121.5,647.2 122.4,645.9 123.3,649.3 124.2,647.9 125.1,644.5 126,644.1 126.9,644.2 127.8,644.8 128.7,646.6 129.6,645.8 130.5,645.5 131.4,645.3 132.3,645.2 133.2,644.4 134.1,644 135,643 135.9,640.2 136.8,643.6 137.7,647.4 138.6,643.5 139.5,643.7 140.4,646.9 141.3,645.6 142.2,645.1 143.1,648.7 144,647.6 144.9,648.2 145.8,646.7 146.7,648.5 147.6,648.7 148.5,649.5 149.4,650.2 150.3,650.3 151.2,649.5 152.1,650.2 153,648.6 153.9,650.5 154.8,650.1 155.7,650.3 156.6,650.4 157.5,650.5 158.4,650.7 159.3,650.7" fill="none" stroke="#222" stroke-width="1.0" stroke-linejoin="round" stroke-dasharray="1 1"/>
<polyline points="49.5,650.8 50.4,648.7 51.3,647.9 52.2,647.6 53.1,646.2 54,644.8 54.9,641.6 55.8,639.9 56.7,638.3 57.6,638.7 58.5,640.7 59.4,637.7 60.3,636.9 61.2,635.2 62.1,627.6 63,629.5 63.9,627.8 64.8,630.7 65.7,630.6 66.6,623.9 67.5,624.7 68.4,625.6 69.3,623.2 70.2,623.6 71.1,624.5 72,629.3 72.9,626.4 73.8,632.1 74.7,630.7 75.6,633.1 76.5,635.6 77.4,631.9 78.3,632.6 79.2,635.9 80.1,633.9 81,635.3 81.9,637.2 82.8,638.4 83.7,636.7 84.6,638.9 85.5,641.1 86.4,642.9 87.3,638.2 88.2,643.8 89.1,643.6 90,641 90.9,640.9 91.8,644 92.7,643.2 93.6,644.3 94.5,645.6 95.4,644.2 96.3,645.3 97.2,646 98.1,646.8 99,648.2 99.9,648.4 100.8,647 101.7,646.8 102.6,650 103.5,648.4 104.4,648.4 105.3,647.1 106.2,649 107.1,647.6 108,647.9 108.9,647 109.8,647.8 110.7,648.4 111.6,646.9 112.5,647.4 113.4,648.2 114.3,647.1 115.2,647.1 116.1,647.5 117,646.8 117.9,648.3 118.8,645.8 119.7,646.9 120.6,645.9 121.5,641.4 122.4,641.4 123.3,638.7 124.2,635.6 125.1,634.9 126,632.8 126.9,632.5 127.8,631 128.7,624 129.6,623.6 130.5,624.1 131.4,623.9 132.3,612.6 133.2,620.8 134.1,614.7 135,617.3 135.9,609.6 136.8,607.3 137.7,610.1 138.6,615.2 139.5,614.8 140.4,611.4 141.3,622 142.2,618.1 143.1,621.6 144,623 144.9,623.2 145.8,626.3 146.7,628.8 147.6,631.5 148.5,634.6 149.4,636.1 150.3,636.1 151.2,640.2 152.1,643.6 153,644.8 153.9,644.8 154.8,646.6 155.7,647.9 156.6,649.3 157.5,650.3 158.4,649.2 159.3,649.7 160.2,650.2 161.1,650.4 162,650.6 162.9,650.8 163.8,650.8 164.7,650.8" fill="none" stroke="#000" stroke-width="1.6" stroke-linejoin="round"/>
<text x="50.4" y="658.8" font-size="6" fill="#222" text-anchor="middle">10<tspan font-size="4" dy="-2.4">0</tspan></text>
<text x="89.2" y="658.8" font-size="6" fill="#222" text-anchor="middle">10<tspan font-size="4" dy="-2.4">1</tspan></text>
<text x="128" y="658.8" font-size="6" fill="#222" text-anchor="middle">10<tspan font-size="4" dy="-2.4">2</tspan></text>
<text x="166.8" y="658.8" font-size="6" fill="#222" text-anchor="middle">10<tspan font-size="4" dy="-2.4">3</tspan></text>
<text x="205.6" y="658.8" font-size="6" fill="#222" text-anchor="middle">10<tspan font-size="4" dy="-2.4">4</tspan></text>
<path d="M50.1,650.8 l0,2 M61.8,650.8 l0,1 M68.6,650.8 l0,1 M73.5,650.8 l0,1 M77.2,650.8 l0,1 M80.3,650.8 l0,1 M82.9,650.8 l0,1 M85.1,650.8 l0,1 M87.1,650.8 l0,1 M88.9,650.8 l0,2 M100.6,650.8 l0,1 M107.4,650.8 l0,1 M112.3,650.8 l0,1 M116,650.8 l0,1 M119.1,650.8 l0,1 M121.7,650.8 l0,1 M123.9,650.8 l0,1 M125.9,650.8 l0,1 M127.7,650.8 l0,2 M139.4,650.8 l0,1 M146.2,650.8 l0,1 M151.1,650.8 l0,1 M154.8,650.8 l0,1 M157.9,650.8 l0,1 M160.5,650.8 l0,1 M162.7,650.8 l0,1 M164.7,650.8 l0,1 M166.5,650.8 l0,2 M178.2,650.8 l0,1 M185,650.8 l0,1 M189.9,650.8 l0,1 M193.6,650.8 l0,1 M196.7,650.8 l0,1 M199.3,650.8 l0,1 M201.5,650.8 l0,1 M203.5,650.8 l0,1 M205.3,650.8 l0,2 M48.8,622.5 l-1.5,0 M48.8,594.2 l-1.5,0 M48.8,566 l-1.5,0 " stroke="#222" stroke-width="0.6" fill="none"/>
<path d="M48.8,537.7 L48.8,650.8" stroke="#9a9a9a" stroke-width="1.1" fill="none"/>
<path d="M48.3,650.8 L205.3,650.8" stroke="#000" stroke-width="1.4" fill="none"/>
<text x="0" y="0" font-size="6.6" fill="#111" stroke="#111" stroke-width="0.15" text-anchor="end" transform="translate(46.8,534.7) rotate(-90)">64</text>
<text x="0" y="0" font-size="6.6" fill="#111" stroke="#111" stroke-width="0.2" text-anchor="middle" textLength="19" lengthAdjust="spacingAndGlyphs" transform="translate(41.4,595) rotate(-90)">Events</text>
<text x="44.3" y="652.6" font-size="5" fill="#222" text-anchor="end">0</text>
<path d="M104.6,558.7 L204.2,558.7 M104.6,557.6 l0,2.2 M204.2,557.6 l0,2.2" stroke="#444" stroke-width="1" fill="none"/>
<path d="M49.6,537.7 L49.6,640" stroke="#000" stroke-width="1.2" stroke-dasharray="1.2 0.9"/>
<text x="195.6" y="555.7" font-size="6.5" fill="#333" stroke="#333" stroke-width="0.2" text-anchor="middle">M1</text>
<path d="M49.7,670.8 L102.3,670.8 M150.8,670.8 L184,670.8" stroke="#000" stroke-width="2.8"/>
<path d="M183,664.5 L211.5,670.8 L183,677.1 Z" fill="#000"/>
<text x="108.08" y="675.60" font-size="13.19" font-weight="normal" font-style="italic" textLength="37.81" lengthAdjust="spacingAndGlyphs" fill="#000" stroke="#000" stroke-width="0.42">CD33</text>
<polygon points="50,807.3 50,791.4 50.9,767.9 51.8,765.1 52.7,763.3 53.6,764.6 54.5,754.7 55.4,753.1 56.3,746.5 57.2,742.8 58.1,741.6 59,739.2 59.9,733.7 60.8,738.6 61.7,735.5 62.6,728.4 63.5,729.4 64.4,729.7 65.3,721 66.2,725.2 67.1,724 68,722.1 68.9,727.3 69.8,726.1 70.7,732.8 71.6,740.7 72.5,747.9 73.4,755.5 74.3,768.3 75.2,767.2 76.1,775.7 77,777.6 77.9,786 78.8,791.5 79.7,795.3 80.6,795.4 81.5,798.4 82.4,801.8 83.3,801.1 84.2,803.2 85.1,801.9 86,805.1 86.9,805.2 87.8,805.1 88.7,804.4 89.6,805.3 90.5,805.7 91.4,806 92.3,806 93.2,806.1 94.1,806.5 95,806.5 95.9,806.6 96.8,806.7 97.7,806.8 98.6,806.9 99.5,807 100.4,807 101.3,807.1 102.2,807.1 103.1,807.1 104,807.2 104.9,807.2 105.8,807.2 106.7,807.3 107.6,807.3 108.5,807.3 109.4,807.3 109.4,807.3" fill="#c6c6c6" stroke="#333" stroke-width="0.9" stroke-linejoin="round"/>
<polyline points="50,775.8 50.9,781 51.8,777 52.7,781.6 53.6,772.2 54.5,782.1 55.4,768.9 56.3,780.5 57.2,773.5 58.1,770.7 59,771.1 59.9,776.9 60.8,771.2 61.7,758.5 62.6,771.6 63.5,768 64.4,761.2 65.3,770.9 66.2,763.9 67.1,770 68,770.9 68.9,768.4 69.8,774.2 70.7,769.2 71.6,774.9 72.5,773.6 73.4,776.4 74.3,785 75.2,780.8 76.1,779.3 77,784.7 77.9,785.2 78.8,789.7 79.7,791.9 80.6,793.2 81.5,794.7 82.4,794.7 83.3,798.2 84.2,800.6 85.1,798.4 86,800.5 86.9,801.4 87.8,804 88.7,804.1 89.6,801.5 90.5,803.1 91.4,801.1 92.3,802.3 93.2,804 94.1,805 95,805.7 95.9,804.2 96.8,803 97.7,805.4 98.6,804.7 99.5,805.5 100.4,805.2 101.3,805.9 102.2,805.8 103.1,806 104,804.4 104.9,806.2 105.8,804.4 106.7,805.1 107.6,807.3 108.5,805.4 109.4,803.6 110.3,806.8 111.2,806.2 112.1,806.4 113,805.2 113.9,805.4 114.8,804.7 115.7,804.1 116.6,806.9 117.5,804.5 118.4,804.4 119.3,804.5 120.2,807.3 121.1,806.1 122,804.5 122.9,804.9 123.8,805.5 124.7,806 125.6,802.8 126.5,805.9 127.4,804.4 128.3,803.7 129.2,804 130.1,805.5 131,806.8 131.9,804.6 132.8,805 133.7,803.1 134.6,804.9 135.5,805.3 136.4,802 137.3,803.3 138.2,805.1 139.1,801.5 140,803.5 140.9,804.8 141.8,801.7 142.7,803.5 143.6,804.1 144.5,805.3 145.4,802.3 146.3,805.7 147.2,804.6 148.1,805.9 149,805.9 149.9,804.8 150.8,805 151.7,802.1 152.6,802.7 153.5,803.3 154.4,804.2 155.3,805.9 156.2,802.5 157.1,804.4 158,803.2 158.9,803 159.8,806.8 160.7,805.2 161.6,807.1 162.5,806.6 163.4,804.1 164.3,803.1 165.2,807.3 166.1,804.9 167,804.2 167.9,806.3 168.8,805.8 169.7,804.9 170.6,805.4 171.5,806 172.4,806 173.3,806.7 174.2,805.7 175.1,805.8 176,806.8 176.9,806.6 177.8,807.3 178.7,806.2 179.6,806.4 180.5,806.5 181.4,806.6 182.3,806.7 183.2,806.8 184.1,806.8 185,806.9 185.9,807 186.8,807 187.7,807.1 188.6,807.2 189.5,807.3" fill="none" stroke="#222" stroke-width="1.0" stroke-linejoin="round" stroke-dasharray="1 1"/>
<polyline points="50,807 50.9,803.7 51.8,802.7 52.7,803.6 53.6,802.7 54.5,801.4 55.4,797.3 56.3,797.3 57.2,799.3 58.1,794.3 59,794 59.9,791.7 60.8,790.1 61.7,793.6 62.6,791.4 63.5,790 64.4,789.4 65.3,789.6 66.2,789.8 67.1,785.5 68,783.9 68.9,781.5 69.8,785.8 70.7,781.5 71.6,778.8 72.5,781.7 73.4,782.6 74.3,784.9 75.2,785.9 76.1,782.6 77,783.2 77.9,785.2 78.8,784.3 79.7,788.3 80.6,791.1 81.5,791.6 82.4,789.2 83.3,790.7 84.2,795.9 85.1,792.1 86,795.7 86.9,795.8 87.8,794.2 88.7,793.2 89.6,795.4 90.5,793.6 91.4,794.9 92.3,795.5 93.2,794.1 94.1,795.1 95,795 95.9,793.5 96.8,795.4 97.7,794.8 98.6,793 99.5,795.8 100.4,796.2 101.3,796.1 102.2,794.1 103.1,799.1 104,799.2 104.9,799.4 105.8,799.1 106.7,796.8 107.6,798.8 108.5,796.7 109.4,801 110.3,795.8 111.2,797 112.1,792.4 113,792.5 113.9,793.3 114.8,795.2 115.7,794.5 116.6,793.7 117.5,789.4 118.4,794.7 119.3,790.5 120.2,795.2 121.1,795.5 122,793.3 122.9,793.4 123.8,788.9 124.7,796.3 125.6,791.5 126.5,792.9 127.4,789 128.3,790.4 129.2,787.9 130.1,789.5 131,789.1 131.9,788.4 132.8,790.1 133.7,788.1 134.6,787.5 135.5,787.1 136.4,791.4 137.3,785.7 138.2,789.6 139.1,782.7 140,785.1 140.9,788 141.8,787.2 142.7,794.6 143.6,794.3 144.5,786.4 145.4,788.2 146.3,790.8 147.2,795 148.1,794.3 149,793.3 149.9,790.5 150.8,792.1 151.7,789.2 152.6,791.8 153.5,795.8 154.4,796.9 155.3,793.7 156.2,796.5 157.1,799.4 158,797.3 158.9,796.8 159.8,798.6 160.7,798.8 161.6,798.4 162.5,797.8 163.4,798.3 164.3,799.3 165.2,798.7 166.1,801.8 167,801.5 167.9,802.1 168.8,803.7 169.7,803.4 170.6,803.5 171.5,802.4 172.4,802 173.3,805.4 174.2,802.1 175.1,802.4 176,802.4 176.9,803.9 177.8,804.4 178.7,805.3 179.6,804.2 180.5,802.9 181.4,805.2 182.3,806 183.2,805.3 184.1,805.3 185,806.1 185.9,807 186.8,805.9 187.7,805.1 188.6,805.9 189.5,806.4 190.4,806.6 191.3,806.8 192.2,806.9" fill="none" stroke="#000" stroke-width="1.6" stroke-linejoin="round"/>
<text x="50.5" y="815.3" font-size="6" fill="#222" text-anchor="middle">10<tspan font-size="4" dy="-2.4">0</tspan></text>
<text x="90.8" y="815.3" font-size="6" fill="#222" text-anchor="middle">10<tspan font-size="4" dy="-2.4">1</tspan></text>
<text x="131.1" y="815.3" font-size="6" fill="#222" text-anchor="middle">10<tspan font-size="4" dy="-2.4">2</tspan></text>
<text x="171.4" y="815.3" font-size="6" fill="#222" text-anchor="middle">10<tspan font-size="4" dy="-2.4">3</tspan></text>
<text x="211.7" y="815.3" font-size="6" fill="#222" text-anchor="middle">10<tspan font-size="4" dy="-2.4">4</tspan></text>
<path d="M50.2,807.3 l0,2 M62.3,807.3 l0,1 M69.4,807.3 l0,1 M74.5,807.3 l0,1 M78.4,807.3 l0,1 M81.6,807.3 l0,1 M84.3,807.3 l0,1 M86.6,807.3 l0,1 M88.7,807.3 l0,1 M90.5,807.3 l0,2 M102.6,807.3 l0,1 M109.7,807.3 l0,1 M114.8,807.3 l0,1 M118.7,807.3 l0,1 M121.9,807.3 l0,1 M124.6,807.3 l0,1 M126.9,807.3 l0,1 M129,807.3 l0,1 M130.8,807.3 l0,2 M142.9,807.3 l0,1 M150,807.3 l0,1 M155.1,807.3 l0,1 M159,807.3 l0,1 M162.2,807.3 l0,1 M164.9,807.3 l0,1 M167.2,807.3 l0,1 M169.3,807.3 l0,1 M171.1,807.3 l0,2 M183.2,807.3 l0,1 M190.3,807.3 l0,1 M195.4,807.3 l0,1 M199.3,807.3 l0,1 M202.5,807.3 l0,1 M205.2,807.3 l0,1 M207.5,807.3 l0,1 M209.6,807.3 l0,1 M211.4,807.3 l0,2 M49.8,778.7 l-1.5,0 M49.8,750.1 l-1.5,0 M49.8,721.5 l-1.5,0 " stroke="#222" stroke-width="0.6" fill="none"/>
<path d="M49.8,692.9 L49.8,807.3" stroke="#9a9a9a" stroke-width="1.1" fill="none"/>
<path d="M49.3,807.3 L211.4,807.3" stroke="#000" stroke-width="1.4" fill="none"/>
<text x="0" y="0" font-size="6.6" fill="#111" stroke="#111" stroke-width="0.15" text-anchor="end" transform="translate(47.8,689.9) rotate(-90)">64</text>
<text x="0" y="0" font-size="6.6" fill="#111" stroke="#111" stroke-width="0.2" text-anchor="middle" textLength="19" lengthAdjust="spacingAndGlyphs" transform="translate(42.4,750.8) rotate(-90)">Events</text>
<text x="45.3" y="809.1" font-size="5" fill="#222" text-anchor="end">0</text>
<path d="M107,713.8 L210.4,713.8 M107,712.7 l0,2.2 M210.4,712.7 l0,2.2" stroke="#444" stroke-width="1" fill="none"/>
<path d="M50.3,692.9 L50.3,790" stroke="#000" stroke-width="1.2" stroke-dasharray="1.2 0.9"/>
<text x="201.8" y="710.8" font-size="6.5" fill="#333" stroke="#333" stroke-width="0.2" text-anchor="middle">M1</text>
<path d="M49.6,825 L101.5,825 M149.6,825 L183.3,825" stroke="#000" stroke-width="2.8"/>
<path d="M182.3,818.7 L211.2,825 L182.3,831.3 Z" fill="#000"/>
<text x="107.68" y="829.10" font-size="13.33" font-weight="normal" font-style="italic" textLength="38.21" lengthAdjust="spacingAndGlyphs" fill="#000" stroke="#000" stroke-width="0.42">CD13</text>
<polygon points="48.5,962.5 48.5,905.2 49.4,905.3 50.3,904.8 51.2,912.3 52.1,906.5 53,907.4 53.9,911.8 54.8,914.7 55.7,913.3 56.6,911.7 57.5,918.2 58.4,920 59.3,927 60.2,923.8 61.1,928.1 62,929.2 62.9,930.1 63.8,936.8 64.7,941.7 65.6,941.2 66.5,945.1 67.4,947.1 68.3,953.3 69.2,951.6 70.1,954.6 71,953.6 71.9,955.7 72.8,955.6 73.7,954.2 74.6,957.6 75.5,958.5 76.4,956.2 77.3,958.6 78.2,958.7 79.1,958.4 80,959.5 80.9,958.3 81.8,960.5 82.7,961.5 83.6,959.7 84.5,960.9 85.4,962.1 86.3,961.3 87.2,961 88.1,961 89,961.8 89.9,961.8 90.8,961.9 91.7,962 92.6,962.1 93.5,962.2 94.4,962.3 95.3,962.3 96.2,962.4 97.1,962.4 98,962.5 98.9,962.5 99.8,962.5 99.8,962.5" fill="#c6c6c6" stroke="#333" stroke-width="0.9" stroke-linejoin="round"/>
<polyline points="48.5,952.2 49.4,950.7 50.3,949.6 51.2,950.5 52.1,953.3 53,955 53.9,952.5 54.8,953.4 55.7,952.6 56.6,954.9 57.5,956.8 58.4,949.8 59.3,956 60.2,954.8 61.1,951.9 62,956.9 62.9,956.4 63.8,957.4 64.7,954.6 65.6,960.7 66.5,957.5 67.4,956.9 68.3,960.1 69.2,958.9 70.1,959.3 71,960 71.9,955.3 72.8,961.1 73.7,958.3 74.6,959.4 75.5,960.5 76.4,958.4 77.3,960 78.2,960.8 79.1,959.9 80,960.8 80.9,958.4 81.8,959.1 82.7,959.3 83.6,961.2 84.5,962.5 85.4,961.3 86.3,961 87.2,961.2 88.1,962.4 89,962.2 89.9,960.6 90.8,961.7 91.7,961.8 92.6,961.9 93.5,962 94.4,962.1 95.3,962.2 96.2,962.2 97.1,962.3 98,962.4 98.9,962.4 99.8,962.5" fill="none" stroke="#222" stroke-width="1.0" stroke-linejoin="round" stroke-dasharray="1 1"/>
<path d="M48.4,882 L48.4,940" stroke="#000" stroke-width="2"/>
<polyline points="48.5,940.6 49.4,941 50.3,938.8 51.2,939.1 52.1,945.3 53,940.3 53.9,938.3 54.8,937.1 55.7,933.8 56.6,935.6 57.5,933.9 58.4,936.6 59.3,932 60.2,929.3 61.1,935.2 62,939.7 62.9,945.1 63.8,942.5 64.7,938.4 65.6,940.4 66.5,939.1 67.4,941.2 68.3,939.9 69.2,938.7 70.1,943.6 71,943.5 71.9,943.1 72.8,944.7 73.7,948.7 74.6,945.3 75.5,945.3 76.4,948.8 77.3,945.2 78.2,950.9 79.1,949.3 80,950.1 80.9,952.4 81.8,955.6 82.7,952.4 83.6,955.6 84.5,955.2 85.4,953.2 86.3,956.9 87.2,955 88.1,954.5 89,955.8 89.9,956.2 90.8,958.2 91.7,956.9 92.6,959.9 93.5,958.6 94.4,957.8 95.3,957.9 96.2,959.3 97.1,957 98,957 98.9,958.5 99.8,960.2 100.7,959.9 101.6,959.8 102.5,959.7 103.4,957.9 104.3,959.8 105.2,958.5 106.1,961 107,960.2 107.9,960.1 108.8,960.5 109.7,960.4 110.6,960.3 111.5,960.3 112.4,959.4 113.3,958.5 114.2,960.1 115.1,961.1 116,960.6 116.9,959.2 117.8,960 118.7,958.7 119.6,959.5 120.5,958.3 121.4,959 122.3,961 123.2,959.5 124.1,960.2 125,957.5 125.9,957.5 126.8,958.2 127.7,958.8 128.6,957.8 129.5,959.1 130.4,957.1 131.3,959.3 132.2,958.8 133.1,956.1 134,958.1 134.9,957 135.8,958.5 136.7,956.4 137.6,957.5 138.5,957.7 139.4,953.5 140.3,954.6 141.2,957.2 142.1,956.9 143,958.3 143.9,957.3 144.8,955.5 145.7,957.5 146.6,956.2 147.5,956.9 148.4,956.6 149.3,957.7 150.2,955.5 151.1,956 152,954.7 152.9,960.2 153.8,956.3 154.7,956.6 155.6,956.3 156.5,957 157.4,957.3 158.3,958.6 159.2,958.2 160.1,958.4 161,957.4 161.9,958.1 162.8,959.7 163.7,958.4 164.6,958.8 165.5,956.3 166.4,959.3 167.3,959.2 168.2,960.4 169.1,956.2 170,959.3 170.9,959.3 171.8,959.7 172.7,959.1 173.6,960 174.5,960.6 175.4,960.1 176.3,959.9 177.2,960 178.1,960 179,960.5 179.9,959.9 180.8,958.8 181.7,961.9 182.6,959.3 183.5,960.8 184.4,959.9 185.3,960.8 186.2,960.3 187.1,961.2 188,960.6 188.9,960.4 189.8,961.7 190.7,962.5 191.6,961.9 192.5,961.8 193.4,961.8 194.3,961.9 195.2,962 196.1,962.1 197,962.2 197.9,962.3 198.8,962.4 199.7,962.5" fill="none" stroke="#000" stroke-width="1.6" stroke-linejoin="round"/>
<text x="49.5" y="970.5" font-size="6" fill="#222" text-anchor="middle">10<tspan font-size="4" dy="-2.4">0</tspan></text>
<text x="89.8" y="970.5" font-size="6" fill="#222" text-anchor="middle">10<tspan font-size="4" dy="-2.4">1</tspan></text>
<text x="130.1" y="970.5" font-size="6" fill="#222" text-anchor="middle">10<tspan font-size="4" dy="-2.4">2</tspan></text>
<text x="170.4" y="970.5" font-size="6" fill="#222" text-anchor="middle">10<tspan font-size="4" dy="-2.4">3</tspan></text>
<text x="210.7" y="970.5" font-size="6" fill="#222" text-anchor="middle">10<tspan font-size="4" dy="-2.4">4</tspan></text>
<path d="M49.2,962.5 l0,2 M61.3,962.5 l0,1 M68.4,962.5 l0,1 M73.5,962.5 l0,1 M77.4,962.5 l0,1 M80.6,962.5 l0,1 M83.3,962.5 l0,1 M85.6,962.5 l0,1 M87.7,962.5 l0,1 M89.5,962.5 l0,2 M101.6,962.5 l0,1 M108.7,962.5 l0,1 M113.8,962.5 l0,1 M117.7,962.5 l0,1 M120.9,962.5 l0,1 M123.6,962.5 l0,1 M125.9,962.5 l0,1 M128,962.5 l0,1 M129.8,962.5 l0,2 M141.9,962.5 l0,1 M149,962.5 l0,1 M154.1,962.5 l0,1 M158,962.5 l0,1 M161.2,962.5 l0,1 M163.9,962.5 l0,1 M166.2,962.5 l0,1 M168.3,962.5 l0,1 M170.1,962.5 l0,2 M182.2,962.5 l0,1 M189.3,962.5 l0,1 M194.4,962.5 l0,1 M198.3,962.5 l0,1 M201.5,962.5 l0,1 M204.2,962.5 l0,1 M206.5,962.5 l0,1 M208.6,962.5 l0,1 M210.4,962.5 l0,2 M47.7,933.9 l-1.5,0 M47.7,905.2 l-1.5,0 M47.7,876.6 l-1.5,0 " stroke="#222" stroke-width="0.6" fill="none"/>
<path d="M47.7,848 L47.7,962.5" stroke="#333" stroke-width="1.1" fill="none"/>
<path d="M47.2,962.5 L210.4,962.5" stroke="#000" stroke-width="1.4" fill="none"/>
<text x="0" y="0" font-size="6.6" fill="#111" stroke="#111" stroke-width="0.15" text-anchor="end" transform="translate(45.7,845) rotate(-90)">64</text>
<text x="0" y="0" font-size="6.6" fill="#111" stroke="#111" stroke-width="0.2" text-anchor="middle" textLength="19" lengthAdjust="spacingAndGlyphs" transform="translate(40.3,906) rotate(-90)">Events</text>
<text x="43.2" y="964.3" font-size="5" fill="#222" text-anchor="end">0</text>
<path d="M100.2,874.6 L209.2,874.6 M100.2,873.5 l0,2.2 M209.2,873.5 l0,2.2" stroke="#444" stroke-width="1" fill="none"/>
<text x="200.6" y="871.6" font-size="6.5" fill="#333" stroke="#333" stroke-width="0.2" text-anchor="middle">M1</text>
<path d="M48.5,980 L101.5,980 M149.6,980 L183.3,980" stroke="#000" stroke-width="2.8"/>
<path d="M182.3,973.7 L211.2,980 L182.3,986.3 Z" fill="#000"/>
<text x="107.68" y="984.20" font-size="13.47" font-weight="normal" font-style="italic" textLength="38.61" lengthAdjust="spacingAndGlyphs" fill="#000" stroke="#000" stroke-width="0.42">CD14</text>
<path d="M312.6,433 L312.6,496" stroke="#000" stroke-width="2"/>
<polyline points="312.5,494.4 313.4,495.2 314.3,495.4 315.2,495.3 316.1,493.7 317,494 317.9,494.7 318.8,492.5 319.7,495.9 320.6,494.9 321.5,494.5 322.4,493.5 323.3,495.3 324.2,493.8 325.1,496.5 326,494.5 326.9,491.7 327.8,494.5 328.7,492.3 329.6,491.8 330.5,491.7 331.4,491.2 332.3,491.2 333.2,491.3 334.1,490 335,486.7 335.9,484.4 336.8,484.5 337.7,486 338.6,486.1 339.5,487.4 340.4,478.5 341.3,480.8 342.2,478.2 343.1,475.5 344,474.9 344.9,471.7 345.8,470.2 346.7,468 347.6,470.5 348.5,471.9 349.4,473.1 350.3,465.1 351.2,462.7 352.1,464.9 353,462.4 353.9,468.6 354.8,462 355.7,465.1 356.6,460.3 357.5,464.3 358.4,466.9 359.3,472.3 360.2,465.8 361.1,470.3 362,463.3 362.9,467.1 363.8,469.1 364.7,470.7 365.6,474.3 366.5,475.6 367.4,469.5 368.3,476.6 369.2,472.4 370.1,481.5 371,477.7 371.9,477.6 372.8,477 373.7,477.7 374.6,477.8 375.5,475.9 376.4,479.8 377.3,478.3 378.2,479.4 379.1,476.9 380,478.7 380.9,474.3 381.8,486.4 382.7,473.7 383.6,474.1 384.5,477.8 385.4,478.3 386.3,471.8 387.2,468.8 388.1,469.2 389,470 389.9,470.2 390.8,471.6 391.7,474.9 392.6,474.6 393.5,468.7 394.4,471.9 395.3,472.5 396.2,473.7 397.1,468.1 398,465.6 398.9,470.1 399.8,472.2 400.7,464.8 401.6,472.7 402.5,471.4 403.4,464 404.3,458.8 405.2,461.6 406.1,461.9 407,464.5 407.9,456 408.8,470.4 409.7,469.5 410.6,457.7 411.5,452.8 412.4,458.4 413.3,460.1 414.2,463.2 415.1,460.5 416,457 416.9,450.5 417.8,460.3 418.7,462.1 419.6,458.5 420.5,461.5 421.4,462.1 422.3,461.5 423.2,460.2 424.1,467.8 425,464.6 425.9,476 426.8,470.9 427.7,477.1 428.6,475.7 429.5,480.8 430.4,481.3 431.3,485 432.2,483.7 433.1,483.7 434,488.1 434.9,489.5 435.8,489.1 436.7,491.8 437.6,491.9 438.5,495.4 439.4,496.4" fill="none" stroke="#222" stroke-width="1.0" stroke-linejoin="round" stroke-dasharray="1 1"/>
<polyline points="312.5,496 313.4,496.8 314.3,495.9 315.2,495.9 316.1,495.9 317,495 317.9,494.3 318.8,495.3 319.7,495.1 320.6,490.6 321.5,493 322.4,492.4 323.3,491.5 324.2,493 325.1,489.9 326,490.9 326.9,487.8 327.8,486.9 328.7,487.5 329.6,483.7 330.5,483.2 331.4,479.6 332.3,477.7 333.2,478.7 334.1,475.8 335,468.9 335.9,465.8 336.8,472.5 337.7,460.8 338.6,456.5 339.5,456.8 340.4,449.1 341.3,446.6 342.2,447.1 343.1,443.9 344,436.1 344.9,438.3 345.8,429.8 346.7,426.3 347.6,424.7 348.5,423.1 349.4,427.4 350.3,428.6 351.2,427.5 352.1,434.3 353,435.6 353.9,441.5 354.8,449.4 355.7,458.3 356.6,460.6 357.5,467.5 358.4,472 359.3,471.2 360.2,472.5 361.1,474.7 362,479.3 362.9,482.5 363.8,485.6 364.7,481.8 365.6,486.8 366.5,487.6 367.4,490.3 368.3,487.1 369.2,487.1 370.1,485.2 371,486.7 371.9,486.5 372.8,486.9 373.7,487.3 374.6,486.5 375.5,488.7 376.4,489.5 377.3,490 378.2,488.7 379.1,490.4 380,490.3 380.9,486.4 381.8,488.1 382.7,486.6 383.6,486.8 384.5,488.4 385.4,487.8 386.3,490.1 387.2,490.9 388.1,488.2 389,487.1 389.9,487 390.8,487 391.7,487.8 392.6,485.5 393.5,487.5 394.4,485.9 395.3,487.9 396.2,488.2 397.1,488.6 398,485.2 398.9,482.9 399.8,482 400.7,484.2 401.6,481.9 402.5,481.2 403.4,483.2 404.3,481.7 405.2,484.5 406.1,486.5 407,482.1 407.9,482.8 408.8,478.8 409.7,481.8 410.6,479.7 411.5,478.5 412.4,476.6 413.3,483.2 414.2,476.2 415.1,476.5 416,478.5 416.9,478.7 417.8,478.3 418.7,477.5 419.6,475.1 420.5,478.6 421.4,477.3 422.3,473.9 423.2,480.6 424.1,476.7 425,479.7 425.9,474.9 426.8,475.8 427.7,477.6 428.6,478 429.5,482.2 430.4,477.9 431.3,482.3 432.2,481.1 433.1,484.9 434,485.3 434.9,485.1 435.8,490.7 436.7,488.2 437.6,491 438.5,488.7 439.4,491.4 440.3,492.6 441.2,493.5 442.1,493.9 443,494.4 443.9,493.7 444.8,496.6" fill="none" stroke="#000" stroke-width="1.6" stroke-linejoin="round"/>
<text x="312.5" y="504.8" font-size="6" fill="#222" text-anchor="middle">10<tspan font-size="4" dy="-2.4">0</tspan></text>
<text x="347.2" y="504.8" font-size="6" fill="#222" text-anchor="middle">10<tspan font-size="4" dy="-2.4">1</tspan></text>
<text x="381.9" y="504.8" font-size="6" fill="#222" text-anchor="middle">10<tspan font-size="4" dy="-2.4">2</tspan></text>
<text x="416.6" y="504.8" font-size="6" fill="#222" text-anchor="middle">10<tspan font-size="4" dy="-2.4">3</tspan></text>
<text x="451.3" y="504.8" font-size="6" fill="#222" text-anchor="middle">10<tspan font-size="4" dy="-2.4">4</tspan></text>
<path d="M312.2,496.8 l0,2 M322.6,496.8 l0,1 M328.8,496.8 l0,1 M333.1,496.8 l0,1 M336.5,496.8 l0,1 M339.2,496.8 l0,1 M341.5,496.8 l0,1 M343.5,496.8 l0,1 M345.3,496.8 l0,1 M346.9,496.8 l0,2 M357.3,496.8 l0,1 M363.5,496.8 l0,1 M367.8,496.8 l0,1 M371.2,496.8 l0,1 M373.9,496.8 l0,1 M376.2,496.8 l0,1 M378.2,496.8 l0,1 M380,496.8 l0,1 M381.6,496.8 l0,2 M392,496.8 l0,1 M398.2,496.8 l0,1 M402.5,496.8 l0,1 M405.9,496.8 l0,1 M408.6,496.8 l0,1 M410.9,496.8 l0,1 M412.9,496.8 l0,1 M414.7,496.8 l0,1 M416.3,496.8 l0,2 M426.7,496.8 l0,1 M432.9,496.8 l0,1 M437.2,496.8 l0,1 M440.6,496.8 l0,1 M443.3,496.8 l0,1 M445.6,496.8 l0,1 M447.6,496.8 l0,1 M449.4,496.8 l0,1 M451,496.8 l0,2 M311.8,468.4 l-1.5,0 M311.8,440 l-1.5,0 M311.8,411.6 l-1.5,0 " stroke="#222" stroke-width="0.6" fill="none"/>
<path d="M311.8,383.2 L311.8,496.8" stroke="#333" stroke-width="1.1" fill="none"/>
<path d="M311.3,496.8 L451,496.8" stroke="#000" stroke-width="1.4" fill="none"/>
<text x="0" y="0" font-size="6.6" fill="#111" stroke="#111" stroke-width="0.15" text-anchor="end" transform="translate(309.8,380.2) rotate(-90)">64</text>
<text x="0" y="0" font-size="6.6" fill="#111" stroke="#111" stroke-width="0.2" text-anchor="middle" textLength="19" lengthAdjust="spacingAndGlyphs" transform="translate(304.4,440.7) rotate(-90)">Events</text>
<text x="307.3" y="498.6" font-size="5" fill="#222" text-anchor="end">0</text>
<path d="M379.5,410 L449.3,410 M379.5,408.9 l0,2.2 M449.3,408.9 l0,2.2" stroke="#444" stroke-width="1" fill="none"/>
<text x="440.7" y="407" font-size="6.5" fill="#333" stroke="#333" stroke-width="0.2" text-anchor="middle">M1</text>
<path d="M312.3,518 L370.8,518 M410,518 L446.8,518" stroke="#000" stroke-width="2.8"/>
<path d="M445.8,511.7 L473.5,518 L445.8,524.3 Z" fill="#000"/>
<text x="374.86" y="522.90" font-size="13.33" font-weight="normal" font-style="italic" textLength="30.98" lengthAdjust="spacingAndGlyphs" fill="#000" stroke="#000" stroke-width="0.42">GPA</text>
<polyline points="312,637.7 312.9,638.9 313.8,641 314.7,643.8 315.6,638.3 316.5,638.5 317.4,636.1 318.3,635 319.2,633.1 320.1,628.9 321,626.8 321.9,626.7 322.8,629.3 323.7,623 324.6,623.2 325.5,608.9 326.4,611.8 327.3,609.1 328.2,606.5 329.1,594.9 330,589.1 330.9,583.9 331.8,588.2 332.7,597.8 333.6,583 334.5,570 335.4,572.8 336.3,565.4 337.2,567.1 338.1,568.3 339,571.6 339.9,581.9 340.8,591.4 341.7,592.3 342.6,599.1 343.5,590.5 344.4,601.9 345.3,598.6 346.2,600.1 347.1,605.5 348,599.9 348.9,602.2 349.8,604.7 350.7,605.7 351.6,607.7 352.5,611.1 353.4,609.4 354.3,606.9 355.2,620.1 356.1,611.2 357,613.6 357.9,609.7 358.8,604.6 359.7,610.5 360.6,614.1 361.5,616.3 362.4,614.6 363.3,617.9 364.2,619 365.1,619.4 366,615.9 366.9,616.6 367.8,615.8 368.7,613.7 369.6,622.7 370.5,613 371.4,617.7 372.3,619.2 373.2,610.8 374.1,621.7 375,618.1 375.9,620.6 376.8,619 377.7,615.2 378.6,621.9 379.5,622 380.4,625.5 381.3,624.1 382.2,616.8 383.1,626.8 384,625.9 384.9,625.8 385.8,624.5 386.7,619.7 387.6,623.1 388.5,618.8 389.4,629.7 390.3,617.5 391.2,613.8 392.1,616.5 393,623 393.9,615.3 394.8,608.1 395.7,622.6 396.6,618.3 397.5,615.1 398.4,619.6 399.3,613.4 400.2,612.6 401.1,621.4 402,617.3 402.9,622.8 403.8,622.9 404.7,627.6 405.6,627 406.5,621.8 407.4,632.3 408.3,630.7 409.2,636.6 410.1,636.3 411,641.5 411.9,638.6 412.8,635.9 413.7,641.5 414.6,644.7 415.5,644 416.4,645 417.3,649.8 418.2,647.8 419.1,650.7 420,650.2 420.9,648.8 421.8,650.4 422.7,652.1 423.6,653.5 424.5,653.8" fill="none" stroke="#222" stroke-width="1.0" stroke-linejoin="round" stroke-dasharray="1 1"/>
<polyline points="312,645.5 312.9,645.1 313.8,645 314.7,643.5 315.6,643.1 316.5,646.4 317.4,643 318.3,640.2 319.2,640.6 320.1,642.2 321,638.3 321.9,633.9 322.8,627.8 323.7,623.6 324.6,623.6 325.5,620.6 326.4,612.5 327.3,609.4 328.2,609.6 329.1,598.9 330,596.6 330.9,598.6 331.8,597.3 332.7,593.5 333.6,593.4 334.5,593.1 335.4,587.9 336.3,579.6 337.2,587.6 338.1,592.9 339,600.5 339.9,599.9 340.8,605.6 341.7,598.6 342.6,605.2 343.5,599.6 344.4,608.4 345.3,617.5 346.2,619.3 347.1,625.5 348,619.7 348.9,617 349.8,612.6 350.7,612.7 351.6,610.5 352.5,615 353.4,617.6 354.3,615.5 355.2,612.9 356.1,619.3 357,622.6 357.9,620.9 358.8,619.5 359.7,620.5 360.6,620.5 361.5,607.9 362.4,618.8 363.3,615.6 364.2,614 365.1,610.2 366,612 366.9,612.6 367.8,605.6 368.7,612.1 369.6,609.8 370.5,614.1 371.4,612 372.3,610.2 373.2,612.1 374.1,615 375,614.6 375.9,616.3 376.8,612.5 377.7,609.7 378.6,609.8 379.5,605 380.4,603.9 381.3,604.2 382.2,595.5 383.1,595.1 384,600.5 384.9,595 385.8,595.9 386.7,590.9 387.6,591.1 388.5,593.1 389.4,598.9 390.3,592 391.2,581.1 392.1,585.8 393,585 393.9,583.4 394.8,575.4 395.7,579.7 396.6,588.4 397.5,579 398.4,586.4 399.3,580.9 400.2,574.8 401.1,575.1 402,582.7 402.9,588.7 403.8,586.2 404.7,590.9 405.6,592.1 406.5,590.5 407.4,602.2 408.3,608 409.2,610.5 410.1,607.1 411,615.7 411.9,618.2 412.8,617.8 413.7,622.5 414.6,625.2 415.5,630.1 416.4,636.9 417.3,634 418.2,636.6 419.1,643.6 420,644.9 420.9,643.9 421.8,646.6 422.7,648.1 423.6,649.4 424.5,651.3 425.4,652.7 426.3,652.2 427.2,652.9 428.1,652.7 429,653.6 429.9,653.9 430.8,654.1" fill="none" stroke="#000" stroke-width="1.6" stroke-linejoin="round"/>
<text x="312.5" y="662.2" font-size="6" fill="#222" text-anchor="middle">10<tspan font-size="4" dy="-2.4">0</tspan></text>
<text x="346.9" y="662.2" font-size="6" fill="#222" text-anchor="middle">10<tspan font-size="4" dy="-2.4">1</tspan></text>
<text x="381.4" y="662.2" font-size="6" fill="#222" text-anchor="middle">10<tspan font-size="4" dy="-2.4">2</tspan></text>
<text x="415.9" y="662.2" font-size="6" fill="#222" text-anchor="middle">10<tspan font-size="4" dy="-2.4">3</tspan></text>
<text x="450.3" y="662.2" font-size="6" fill="#222" text-anchor="middle">10<tspan font-size="4" dy="-2.4">4</tspan></text>
<path d="M312.2,654.2 l0,2 M322.6,654.2 l0,1 M328.6,654.2 l0,1 M332.9,654.2 l0,1 M336.3,654.2 l0,1 M339,654.2 l0,1 M341.3,654.2 l0,1 M343.3,654.2 l0,1 M345.1,654.2 l0,1 M346.6,654.2 l0,2 M357,654.2 l0,1 M363.1,654.2 l0,1 M367.4,654.2 l0,1 M370.7,654.2 l0,1 M373.5,654.2 l0,1 M375.8,654.2 l0,1 M377.8,654.2 l0,1 M379.5,654.2 l0,1 M381.1,654.2 l0,2 M391.5,654.2 l0,1 M397.5,654.2 l0,1 M401.8,654.2 l0,1 M405.2,654.2 l0,1 M407.9,654.2 l0,1 M410.2,654.2 l0,1 M412.2,654.2 l0,1 M414,654.2 l0,1 M415.6,654.2 l0,2 M425.9,654.2 l0,1 M432,654.2 l0,1 M436.3,654.2 l0,1 M439.6,654.2 l0,1 M442.4,654.2 l0,1 M444.7,654.2 l0,1 M446.7,654.2 l0,1 M448.4,654.2 l0,1 M450,654.2 l0,2 M311.2,625.8 l-1.5,0 M311.2,597.4 l-1.5,0 M311.2,569 l-1.5,0 " stroke="#222" stroke-width="0.6" fill="none"/>
<path d="M311.2,540.6 L311.2,654.2" stroke="#9a9a9a" stroke-width="1.1" fill="none"/>
<path d="M310.7,654.2 L450,654.2" stroke="#000" stroke-width="1.4" fill="none"/>
<text x="0" y="0" font-size="6.6" fill="#111" stroke="#111" stroke-width="0.15" text-anchor="end" transform="translate(309.2,537.6) rotate(-90)">32</text>
<text x="0" y="0" font-size="6.6" fill="#111" stroke="#111" stroke-width="0.2" text-anchor="middle" textLength="19" lengthAdjust="spacingAndGlyphs" transform="translate(303.8,598.1) rotate(-90)">Events</text>
<text x="306.7" y="656" font-size="5" fill="#222" text-anchor="end">0</text>
<path d="M372.1,558.1 L450,558.1 M372.1,557 l0,2.2 M450,557 l0,2.2" stroke="#444" stroke-width="1" fill="none"/>
<path d="M312,540.6 L312,640" stroke="#000" stroke-width="1.2" stroke-dasharray="1.2 0.9"/>
<text x="441.4" y="555.1" font-size="6.5" fill="#333" stroke="#333" stroke-width="0.2" text-anchor="middle">M1</text>
<circle cx="401.7" cy="561.7" r="0.6" fill="#333"/>
<path d="M313,670.7 L366,670.7 M414.4,670.7 L446,670.7" stroke="#000" stroke-width="2.8"/>
<path d="M445,664.4 L473.5,670.7 L445,677 Z" fill="#000"/>
<text x="370.98" y="675.60" font-size="13.19" font-weight="normal" font-style="italic" textLength="37.70" lengthAdjust="spacingAndGlyphs" fill="#000" stroke="#000" stroke-width="0.42">CD33</text>
<polyline points="312,805.3 312.9,809.3 313.8,806.9 314.7,803.1 315.6,800.9 316.5,802.8 317.4,805.1 318.3,800.9 319.2,800.8 320.1,799.5 321,801.3 321.9,802.4 322.8,795.4 323.7,796.9 324.6,796.4 325.5,794.5 326.4,792.2 327.3,796.7 328.2,794.2 329.1,794.9 330,796.3 330.9,790.1 331.8,791.8 332.7,788 333.6,788 334.5,788.4 335.4,785.9 336.3,780.7 337.2,789.5 338.1,784.3 339,779.2 339.9,774.9 340.8,781.6 341.7,783.3 342.6,783.9 343.5,783.7 344.4,777.8 345.3,780.8 346.2,772.2 347.1,777.5 348,779.3 348.9,772.6 349.8,773.1 350.7,772.9 351.6,771.8 352.5,775.9 353.4,764.5 354.3,772.9 355.2,760.8 356.1,761.6 357,759.5 357.9,761.1 358.8,758.4 359.7,762.3 360.6,760.3 361.5,770.1 362.4,762.6 363.3,760.4 364.2,763.6 365.1,765.2 366,762.4 366.9,759.2 367.8,761.1 368.7,765.9 369.6,769.4 370.5,768.8 371.4,767.3 372.3,770.8 373.2,767.4 374.1,771.3 375,776.7 375.9,776.3 376.8,778.1 377.7,772.5 378.6,775.8 379.5,772.8 380.4,781.5 381.3,778.7 382.2,777.7 383.1,782.6 384,787.4 384.9,782.5 385.8,787.5 386.7,796.2 387.6,795.4 388.5,796.5 389.4,794 390.3,802.7 391.2,802.5 392.1,802.8 393,800.3 393.9,804.7 394.8,806.7 395.7,805.1 396.6,806.3 397.5,806.8 398.4,809.1 399.3,808.8 400.2,809.5 401.1,810.4 402,811" fill="none" stroke="#222" stroke-width="1.0" stroke-linejoin="round" stroke-dasharray="1 1"/>
<polyline points="312,810.7 312.9,811 313.8,810.7 314.7,811 315.6,809.6 316.5,809.9 317.4,810.1 318.3,809.6 319.2,811 320.1,808.3 321,808.2 321.9,807.3 322.8,805.7 323.7,806.6 324.6,801.8 325.5,805.2 326.4,803.9 327.3,802 328.2,803 329.1,804.1 330,800.1 330.9,800.7 331.8,799.9 332.7,799.9 333.6,797.8 334.5,797.2 335.4,799.4 336.3,797.2 337.2,799.6 338.1,799.2 339,796.7 339.9,798 340.8,797.3 341.7,796.7 342.6,798.9 343.5,796.6 344.4,796.6 345.3,792.1 346.2,796.6 347.1,792 348,793.4 348.9,796.8 349.8,796.6 350.7,791.3 351.6,788.8 352.5,791.9 353.4,789.7 354.3,790.9 355.2,786.6 356.1,791.6 357,791.8 357.9,783.9 358.8,783.1 359.7,780 360.6,780.4 361.5,770.1 362.4,774.8 363.3,772.4 364.2,769.8 365.1,773.4 366,765 366.9,766.4 367.8,767.9 368.7,772.2 369.6,768.8 370.5,767.1 371.4,770.5 372.3,766.8 373.2,765.4 374.1,765.5 375,766.6 375.9,773.4 376.8,760.9 377.7,764.8 378.6,763.1 379.5,762.4 380.4,767.9 381.3,765.3 382.2,764.7 383.1,760.9 384,759.5 384.9,763.1 385.8,761 386.7,760 387.6,763.9 388.5,757.7 389.4,759.2 390.3,764 391.2,761.2 392.1,763.6 393,761.8 393.9,772.9 394.8,772.5 395.7,780.7 396.6,781.1 397.5,782.6 398.4,788 399.3,788.1 400.2,788.8 401.1,796.2 402,796.3 402.9,800.3 403.8,800.5 404.7,803.9 405.6,802.6 406.5,803.7 407.4,805 408.3,808.6 409.2,806.9 410.1,808.2 411,810.2 411.9,810.8" fill="none" stroke="#000" stroke-width="1.6" stroke-linejoin="round"/>
<text x="312.5" y="819" font-size="6" fill="#222" text-anchor="middle">10<tspan font-size="4" dy="-2.4">0</tspan></text>
<text x="346.8" y="819" font-size="6" fill="#222" text-anchor="middle">10<tspan font-size="4" dy="-2.4">1</tspan></text>
<text x="381.1" y="819" font-size="6" fill="#222" text-anchor="middle">10<tspan font-size="4" dy="-2.4">2</tspan></text>
<text x="415.4" y="819" font-size="6" fill="#222" text-anchor="middle">10<tspan font-size="4" dy="-2.4">3</tspan></text>
<text x="449.7" y="819" font-size="6" fill="#222" text-anchor="middle">10<tspan font-size="4" dy="-2.4">4</tspan></text>
<path d="M312.2,811 l0,2 M322.5,811 l0,1 M328.6,811 l0,1 M332.9,811 l0,1 M336.2,811 l0,1 M338.9,811 l0,1 M341.2,811 l0,1 M343.2,811 l0,1 M344.9,811 l0,1 M346.5,811 l0,2 M356.8,811 l0,1 M362.9,811 l0,1 M367.2,811 l0,1 M370.5,811 l0,1 M373.2,811 l0,1 M375.5,811 l0,1 M377.5,811 l0,1 M379.2,811 l0,1 M380.8,811 l0,2 M391.1,811 l0,1 M397.2,811 l0,1 M401.5,811 l0,1 M404.8,811 l0,1 M407.5,811 l0,1 M409.8,811 l0,1 M411.8,811 l0,1 M413.5,811 l0,1 M415.1,811 l0,2 M425.4,811 l0,1 M431.5,811 l0,1 M435.8,811 l0,1 M439.1,811 l0,1 M441.8,811 l0,1 M444.1,811 l0,1 M446.1,811 l0,1 M447.8,811 l0,1 M449.4,811 l0,2 M311.2,783.1 l-1.5,0 M311.2,755.2 l-1.5,0 M311.2,727.4 l-1.5,0 " stroke="#222" stroke-width="0.6" fill="none"/>
<path d="M311.2,699.5 L311.2,811" stroke="#9a9a9a" stroke-width="1.1" fill="none"/>
<path d="M310.7,811 L449.4,811" stroke="#000" stroke-width="1.4" fill="none"/>
<text x="0" y="0" font-size="6.6" fill="#111" stroke="#111" stroke-width="0.15" text-anchor="end" transform="translate(309.2,696.5) rotate(-90)">64</text>
<text x="0" y="0" font-size="6.6" fill="#111" stroke="#111" stroke-width="0.2" text-anchor="middle" textLength="19" lengthAdjust="spacingAndGlyphs" transform="translate(303.8,756) rotate(-90)">Events</text>
<text x="306.7" y="812.8" font-size="5" fill="#222" text-anchor="end">0</text>
<path d="M371.4,715.8 L448.7,715.8 M371.4,714.7 l0,2.2 M448.7,714.7 l0,2.2" stroke="#444" stroke-width="1" fill="none"/>
<path d="M312,699.5 L312,806" stroke="#000" stroke-width="1.2" stroke-dasharray="1.2 0.9"/>
<text x="440.1" y="712.8" font-size="6.5" fill="#333" stroke="#333" stroke-width="0.2" text-anchor="middle">M1</text>
<path d="M312.3,824.2 L366.9,824.2 M413,824.2 L446.8,824.2" stroke="#000" stroke-width="2.8"/>
<path d="M445.8,817.9 L473.5,824.2 L445.8,830.5 Z" fill="#000"/>
<text x="370.88" y="829.10" font-size="13.33" font-weight="normal" font-style="italic" textLength="38.21" lengthAdjust="spacingAndGlyphs" fill="#000" stroke="#000" stroke-width="0.42">CD13</text>
<polyline points="312,926.9 312.9,920.6 313.8,925.9 314.7,922.9 315.6,925.6 316.5,923.7 317.4,916.1 318.3,919.2 319.2,917.1 320.1,919.3 321,917.8 321.9,917 322.8,920.5 323.7,918.9 324.6,923.1 325.5,921.7 326.4,923.1 327.3,930 328.2,932.9 329.1,937.3 330,938.9 330.9,939.5 331.8,943.5 332.7,945.9 333.6,942.8 334.5,946.6 335.4,954.9 336.3,952.2 337.2,946.7 338.1,954.1 339,955.7 339.9,953.6 340.8,961.8 341.7,960.3 342.6,960.6 343.5,959.6 344.4,961.7 345.3,963 346.2,963.1 347.1,962.1 348,963.7 348.9,964.1 349.8,964.8 350.7,963.8 351.6,965.5 352.5,965.4 353.4,965.7 354.3,965.9" fill="none" stroke="#222" stroke-width="1.0" stroke-linejoin="round" stroke-dasharray="1 1"/>
<polyline points="312,898.9 312.9,905.8 313.8,904.7 314.7,897.1 315.6,903 316.5,900.9 317.4,900.9 318.3,903.7 319.2,899.9 320.1,905.9 321,902.7 321.9,901.4 322.8,907.2 323.7,899.4 324.6,915.6 325.5,914.2 326.4,922.1 327.3,927.1 328.2,929 329.1,935.2 330,937 330.9,940.7 331.8,945.3 332.7,944.3 333.6,952.2 334.5,948.2 335.4,953.1 336.3,951.3 337.2,951.1 338.1,954.8 339,955.2 339.9,955.3 340.8,956.4 341.7,956.5 342.6,959.1 343.5,958.8 344.4,960.5 345.3,962.7 346.2,960.7 347.1,962.1 348,962.5 348.9,962.9 349.8,962.9 350.7,964.2 351.6,964.8 352.5,964.8 353.4,963.9 354.3,965.5 355.2,965.6 356.1,965.2 357,964.5 357.9,964.6 358.8,966 359.7,965.2 360.6,965.2 361.5,965.3 362.4,965.3 363.3,965.3 364.2,965.3 365.1,965.3 366,965.3 366.9,965.3 367.8,965.4 368.7,965.4 369.6,965.4 370.5,965.4 371.4,965.4 372.3,965.4 373.2,965.4 374.1,965.4 375,965.4 375.9,965.4 376.8,965.5 377.7,965.5 378.6,965.5 379.5,965.5 380.4,965.5 381.3,965.5 382.2,965.5 383.1,965.5 384,965.6 384.9,965.6 385.8,965.6 386.7,965.6 387.6,965.6 388.5,965.6 389.4,965.6 390.3,965.7 391.2,965.7 392.1,965.7 393,965.7 393.9,965.7 394.8,965.7 395.7,965.7 396.6,965.7 397.5,965.8 398.4,965.8 399.3,965.8 400.2,965.8 401.1,965.8 402,965.8 402.9,965.8 403.8,965.8 404.7,965.8 405.6,965.9 406.5,965.9 407.4,965.9 408.3,965.9 409.2,965.9 410.1,965.9 411,965.9 411.9,965.9 412.8,965.9 413.7,965.9 414.6,965.9 415.5,966 416.4,966 417.3,966 418.2,966 419.1,966 420,966" fill="none" stroke="#000" stroke-width="1.6" stroke-linejoin="round"/>
<text x="312.5" y="974" font-size="6" fill="#222" text-anchor="middle">10<tspan font-size="4" dy="-2.4">0</tspan></text>
<text x="347" y="974" font-size="6" fill="#222" text-anchor="middle">10<tspan font-size="4" dy="-2.4">1</tspan></text>
<text x="381.5" y="974" font-size="6" fill="#222" text-anchor="middle">10<tspan font-size="4" dy="-2.4">2</tspan></text>
<text x="416" y="974" font-size="6" fill="#222" text-anchor="middle">10<tspan font-size="4" dy="-2.4">3</tspan></text>
<text x="450.5" y="974" font-size="6" fill="#222" text-anchor="middle">10<tspan font-size="4" dy="-2.4">4</tspan></text>
<path d="M312.2,966 l0,2 M322.6,966 l0,1 M328.7,966 l0,1 M333,966 l0,1 M336.3,966 l0,1 M339,966 l0,1 M341.4,966 l0,1 M343.4,966 l0,1 M345.1,966 l0,1 M346.7,966 l0,2 M357.1,966 l0,1 M363.2,966 l0,1 M367.5,966 l0,1 M370.8,966 l0,1 M373.5,966 l0,1 M375.9,966 l0,1 M377.9,966 l0,1 M379.6,966 l0,1 M381.2,966 l0,2 M391.6,966 l0,1 M397.7,966 l0,1 M402,966 l0,1 M405.3,966 l0,1 M408,966 l0,1 M410.4,966 l0,1 M412.4,966 l0,1 M414.1,966 l0,1 M415.7,966 l0,2 M426.1,966 l0,1 M432.2,966 l0,1 M436.5,966 l0,1 M439.8,966 l0,1 M442.5,966 l0,1 M444.9,966 l0,1 M446.9,966 l0,1 M448.6,966 l0,1 M450.2,966 l0,2 M311.2,938 l-1.5,0 M311.2,909.9 l-1.5,0 M311.2,881.8 l-1.5,0 " stroke="#222" stroke-width="0.6" fill="none"/>
<path d="M311.2,853.8 L311.2,966" stroke="#9a9a9a" stroke-width="1.1" fill="none"/>
<path d="M310.7,966 L450.2,966" stroke="#000" stroke-width="1.4" fill="none"/>
<text x="0" y="0" font-size="6.6" fill="#111" stroke="#111" stroke-width="0.15" text-anchor="end" transform="translate(309.2,850.8) rotate(-90)">64</text>
<text x="0" y="0" font-size="6.6" fill="#111" stroke="#111" stroke-width="0.2" text-anchor="middle" textLength="19" lengthAdjust="spacingAndGlyphs" transform="translate(303.8,910.6) rotate(-90)">Events</text>
<text x="306.7" y="967.8" font-size="5" fill="#222" text-anchor="end">0</text>
<path d="M353.5,876.4 L448.7,876.4 M353.5,875.3 l0,2.2 M448.7,875.3 l0,2.2" stroke="#444" stroke-width="1" fill="none"/>
<path d="M312,854 L312,965" stroke="#000" stroke-width="1.5" stroke-dasharray="1.2 0.9"/>
<text x="440.1" y="873.4" font-size="6.5" fill="#333" stroke="#333" stroke-width="0.2" text-anchor="middle">M1</text>
<path d="M313.3,979.2 L366.2,979.2 M414.4,979.2 L446,979.2" stroke="#000" stroke-width="2.8"/>
<path d="M445,972.9 L474.6,979.2 L445,985.5 Z" fill="#000"/>
<text x="370.88" y="984.20" font-size="13.47" font-weight="normal" font-style="italic" textLength="38.61" lengthAdjust="spacingAndGlyphs" fill="#000" stroke="#000" stroke-width="0.42">CD14</text>
</svg>
</body></html>
